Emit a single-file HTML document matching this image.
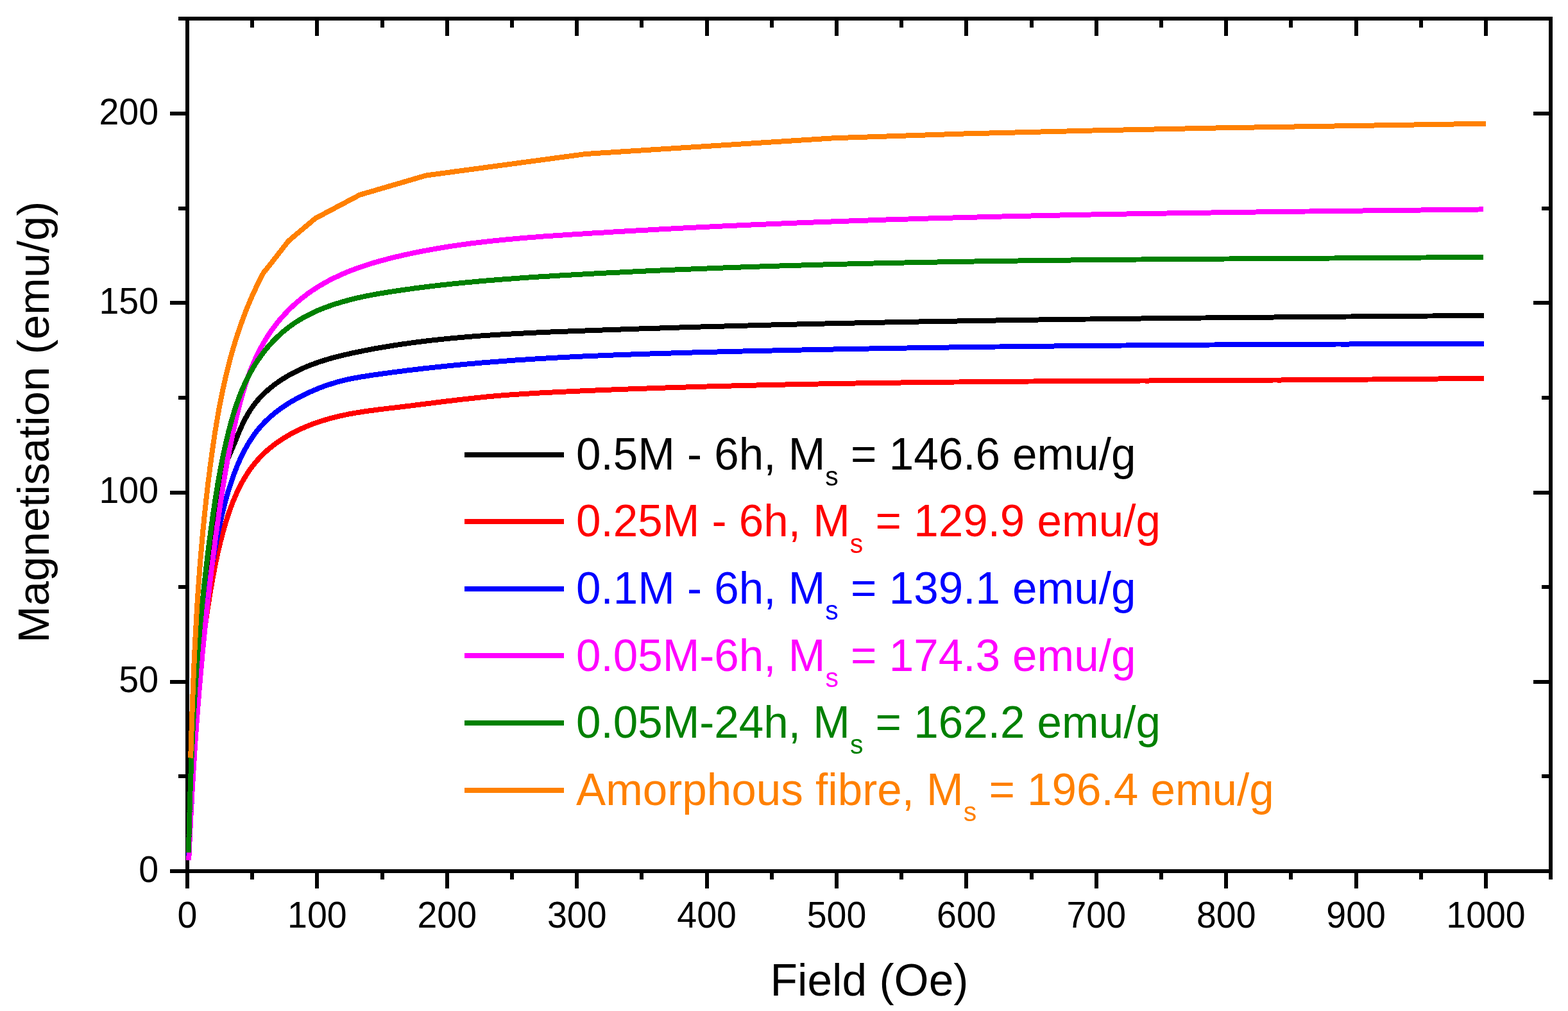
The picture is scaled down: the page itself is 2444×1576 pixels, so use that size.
<!DOCTYPE html>
<html><head><meta charset="utf-8"><title>Magnetisation vs Field</title>
<style>
html,body{margin:0;padding:0;background:#fff;}
body{width:2444px;height:1576px;overflow:hidden;}
svg{display:block;font-family:"Liberation Sans",Arial,sans-serif;}
</style></head><body>
<svg width="2444" height="1576" viewBox="0 0 2444 1576">
<rect width="2444" height="1576" fill="#fff"/>
<g fill="#000" shape-rendering="crispEdges">
<rect x="289" y="26" width="6" height="1335"/>
<rect x="2414" y="26" width="6" height="1335"/>
<rect x="289" y="26" width="2131" height="6"/>
<rect x="289" y="1355" width="2131" height="6"/>
<rect x="265" y="1355.00" width="24" height="6"/>
<rect x="2390" y="1355.00" width="24" height="6"/>
<rect x="278" y="1207.38" width="11" height="6"/>
<rect x="2403" y="1207.38" width="11" height="6"/>
<rect x="265" y="1059.75" width="24" height="6"/>
<rect x="2390" y="1059.75" width="24" height="6"/>
<rect x="278" y="912.12" width="11" height="6"/>
<rect x="2403" y="912.12" width="11" height="6"/>
<rect x="265" y="764.50" width="24" height="6"/>
<rect x="2390" y="764.50" width="24" height="6"/>
<rect x="278" y="616.88" width="11" height="6"/>
<rect x="2403" y="616.88" width="11" height="6"/>
<rect x="265" y="469.25" width="24" height="6"/>
<rect x="2390" y="469.25" width="24" height="6"/>
<rect x="278" y="321.62" width="11" height="6"/>
<rect x="2403" y="321.62" width="11" height="6"/>
<rect x="265" y="174.00" width="24" height="6"/>
<rect x="2390" y="174.00" width="24" height="6"/>
<rect x="278" y="26.38" width="11" height="6"/>
<rect x="2403" y="26.38" width="11" height="6"/>
<rect x="289.00" y="1361" width="6" height="24"/>
<rect x="289.00" y="32" width="6" height="24"/>
<rect x="390.20" y="1361" width="6" height="10"/>
<rect x="390.20" y="32" width="6" height="11"/>
<rect x="491.40" y="1361" width="6" height="24"/>
<rect x="491.40" y="32" width="6" height="24"/>
<rect x="592.60" y="1361" width="6" height="10"/>
<rect x="592.60" y="32" width="6" height="11"/>
<rect x="693.80" y="1361" width="6" height="24"/>
<rect x="693.80" y="32" width="6" height="24"/>
<rect x="795.00" y="1361" width="6" height="10"/>
<rect x="795.00" y="32" width="6" height="11"/>
<rect x="896.20" y="1361" width="6" height="24"/>
<rect x="896.20" y="32" width="6" height="24"/>
<rect x="997.40" y="1361" width="6" height="10"/>
<rect x="997.40" y="32" width="6" height="11"/>
<rect x="1098.60" y="1361" width="6" height="24"/>
<rect x="1098.60" y="32" width="6" height="24"/>
<rect x="1199.80" y="1361" width="6" height="10"/>
<rect x="1199.80" y="32" width="6" height="11"/>
<rect x="1301.00" y="1361" width="6" height="24"/>
<rect x="1301.00" y="32" width="6" height="24"/>
<rect x="1402.20" y="1361" width="6" height="10"/>
<rect x="1402.20" y="32" width="6" height="11"/>
<rect x="1503.40" y="1361" width="6" height="24"/>
<rect x="1503.40" y="32" width="6" height="24"/>
<rect x="1604.60" y="1361" width="6" height="10"/>
<rect x="1604.60" y="32" width="6" height="11"/>
<rect x="1705.80" y="1361" width="6" height="24"/>
<rect x="1705.80" y="32" width="6" height="24"/>
<rect x="1807.00" y="1361" width="6" height="10"/>
<rect x="1807.00" y="32" width="6" height="11"/>
<rect x="1908.20" y="1361" width="6" height="24"/>
<rect x="1908.20" y="32" width="6" height="24"/>
<rect x="2009.40" y="1361" width="6" height="10"/>
<rect x="2009.40" y="32" width="6" height="11"/>
<rect x="2110.60" y="1361" width="6" height="24"/>
<rect x="2110.60" y="32" width="6" height="24"/>
<rect x="2211.80" y="1361" width="6" height="10"/>
<rect x="2211.80" y="32" width="6" height="11"/>
<rect x="2313.00" y="1361" width="6" height="24"/>
<rect x="2313.00" y="32" width="6" height="24"/>
<rect x="2414.20" y="1361" width="6" height="10"/>
<rect x="2414.20" y="32" width="6" height="11"/>
</g>
<g fill="none" stroke-width="8" stroke-linejoin="round" stroke-linecap="butt" shape-rendering="crispEdges">
<path d="M294.2,1336.0 L294.1,1333.3 L294.2,1330.6 L294.3,1329.3 L294.3,1328.0 L294.5,1325.3 L294.6,1322.7 L294.6,1322.6 L294.8,1320.0 L294.9,1317.3 L295.0,1316.0 L295.0,1314.7 L295.2,1312.0 L295.3,1309.3 L295.3,1309.3 L295.4,1306.7 L295.6,1304.0 L295.6,1302.7 L295.7,1301.3 L295.8,1298.7 L296.0,1296.0 L296.0,1296.0 L296.1,1293.3 L296.2,1290.7 L296.3,1289.4 L296.3,1288.0 L296.5,1285.3 L296.6,1282.7 L296.6,1282.7 L296.7,1280.0 L296.9,1277.3 L296.9,1276.0 L297.0,1274.6 L297.1,1272.0 L297.2,1269.4 L297.2,1269.3 L297.4,1266.6 L297.5,1264.0 L297.6,1262.7 L297.6,1261.3 L297.8,1258.6 L297.9,1256.0 L297.9,1256.0 L298.0,1253.3 L298.1,1250.6 L298.2,1249.4 L298.3,1248.0 L298.4,1245.3 L298.5,1242.7 L298.5,1242.6 L298.6,1240.0 L298.8,1237.3 L298.8,1236.0 L298.9,1234.6 L299.0,1232.0 L299.1,1229.4 L299.1,1229.3 L299.3,1226.6 L299.4,1224.0 L299.4,1222.7 L299.5,1221.3 L299.6,1218.6 L299.8,1216.0 L299.8,1215.9 L299.9,1213.3 L300.0,1210.6 L300.1,1209.4 L300.1,1207.9 L300.3,1205.3 L300.4,1202.7 L300.4,1202.6 L300.5,1199.9 L300.7,1197.3 L300.7,1196.0 L300.8,1194.6 L300.9,1191.9 L301.0,1189.4 L301.0,1189.3 L301.2,1186.6 L301.3,1183.9 L301.4,1182.7 L301.4,1181.3 L301.6,1178.6 L301.7,1176.0 L301.7,1175.9 L301.8,1173.2 L302.0,1170.6 L302.0,1169.4 L302.1,1167.9 L302.2,1165.2 L302.4,1162.7 L302.4,1162.6 L302.5,1159.9 L302.6,1157.2 L302.7,1156.0 L302.8,1154.6 L302.9,1151.9 L303.0,1149.4 L303.0,1149.2 L303.2,1146.6 L303.3,1143.9 L303.4,1142.7 L303.5,1141.2 L303.6,1138.6 L303.7,1136.1 L303.8,1135.9 L303.9,1133.2 L304.0,1130.5 L304.1,1129.4 L304.2,1127.9 L304.3,1125.2 L304.5,1122.7 L304.5,1122.5 L304.6,1119.9 L304.8,1117.2 L304.8,1116.1 L304.9,1114.5 L305.1,1111.9 L305.2,1109.4 L305.2,1109.2 L305.4,1106.5 L305.5,1103.9 L305.6,1102.7 L305.7,1101.2 L305.9,1098.5 L306.0,1096.1 L306.0,1095.9 L306.2,1093.2 L306.3,1090.5 L306.4,1089.4 L306.5,1087.9 L306.7,1085.2 L306.8,1082.7 L306.8,1082.5 L307.0,1079.9 L307.2,1077.2 L307.2,1076.1 L307.3,1074.5 L307.5,1071.9 L307.7,1069.4 L307.7,1069.2 L307.9,1066.5 L308.0,1063.9 L308.1,1062.8 L308.2,1061.2 L308.4,1058.5 L308.6,1056.1 L308.6,1055.9 L308.8,1053.2 L309.0,1050.6 L309.0,1049.5 L309.1,1047.9 L309.3,1045.2 L309.5,1042.8 L309.5,1042.6 L309.7,1039.9 L309.9,1037.2 L310.0,1036.2 L310.1,1034.6 L310.3,1031.9 L310.5,1029.5 L310.5,1029.2 L310.7,1026.6 L310.9,1023.9 L311.0,1022.8 L311.1,1021.3 L311.3,1018.6 L311.5,1016.2 L311.5,1015.9 L311.7,1013.3 L312.0,1010.6 L312.0,1009.5 L312.2,1007.9 L312.4,1005.3 L312.6,1002.9 L312.6,1002.6 L312.8,1000.0 L313.1,997.3 L313.1,996.3 L313.3,994.6 L313.5,992.0 L313.7,989.6 L313.7,989.3 L314.0,986.7 L314.2,984.0 L314.3,983.0 L314.5,981.3 L314.7,978.7 L314.9,976.3 L314.9,976.0 L315.2,973.4 L315.4,970.7 L315.5,969.7 L315.7,968.1 L315.9,965.4 L316.2,963.0 L316.2,962.7 L316.5,960.1 L316.7,957.4 L316.8,956.4 L317.0,954.8 L317.2,952.1 L317.5,949.8 L317.5,949.5 L317.8,946.8 L318.1,944.1 L318.2,943.1 L318.3,941.5 L318.6,938.8 L318.9,936.5 L318.9,936.2 L319.2,933.5 L319.5,930.9 L319.6,929.9 L319.8,928.2 L320.0,925.6 L320.3,923.3 L320.3,922.9 L320.6,920.3 L320.9,917.6 L321.1,916.6 L321.3,914.9 L321.6,912.3 L321.8,910.0 L321.9,909.6 L322.2,907.0 L322.5,904.3 L322.6,903.4 L322.8,901.7 L323.1,899.0 L323.4,896.8 L323.5,896.4 L323.8,893.7 L324.1,891.1 L324.3,890.1 L324.5,888.4 L324.8,885.8 L325.1,883.5 L325.2,883.1 L325.5,880.5 L325.8,877.9 L326.0,876.9 L326.2,875.2 L326.5,872.6 L326.8,870.3 L326.9,869.9 L327.2,867.3 L327.6,864.6 L327.7,863.7 L328.0,862.0 L328.3,859.3 L328.6,857.1 L328.7,856.7 L329.1,854.0 L329.4,851.4 L329.5,850.5 L329.8,848.7 L330.2,846.1 L330.5,843.9 L330.5,843.4 L330.9,840.8 L331.3,838.1 L331.4,837.2 L331.6,835.5 L332.0,832.9 L332.3,830.6 L332.4,830.2 L332.8,827.6 L333.2,824.9 L333.3,824.0 L333.5,822.3 L333.9,819.6 L334.2,817.4 L334.3,817.0 L334.7,814.3 L335.0,811.7 L335.2,810.8 L335.4,809.0 L335.8,806.4 L336.1,804.2 L336.2,803.7 L336.6,801.1 L337.0,798.4 L337.1,797.6 L337.3,795.8 L337.7,793.1 L338.0,791.0 L338.1,790.5 L338.5,787.8 L338.8,785.2 L339.0,784.3 L339.2,782.5 L339.6,779.9 L339.9,777.7 L340.0,777.2 L340.4,774.6 L340.8,772.0 L340.9,771.1 L341.1,769.3 L341.6,766.7 L341.9,764.5 L342.0,764.0 L342.4,761.4 L342.9,758.8 L343.0,757.9 L343.3,756.1 L343.8,753.5 L344.2,751.4 L344.3,750.9 L344.9,748.3 L345.4,745.7 L345.6,744.9 L346.0,743.1 L346.6,740.5 L347.2,738.5 L347.3,738.0 L348.0,735.4 L348.7,732.9 L349.0,732.1 L349.5,730.4 L350.3,727.8 L351.0,725.8 L351.2,725.3 L352.1,722.8 L353.1,720.4 L353.4,719.6 L354.0,717.9 L355.1,715.4 L355.9,713.4 L356.1,712.9 L357.1,710.5 L358.2,708.0 L358.5,707.3 L359.2,705.6 L360.3,703.1 L361.1,701.1 L361.3,700.7 L362.4,698.2 L363.4,695.7 L363.7,695.0 L364.4,693.2 L365.5,690.8 L366.3,688.8 L366.5,688.3 L367.5,685.8 L368.5,683.3 L368.8,682.6 L369.5,680.8 L370.6,678.4 L371.4,676.4 L371.6,675.9 L372.6,673.4 L373.7,671.0 L374.0,670.3 L374.8,668.5 L375.8,666.1 L376.7,664.2 L376.9,663.7 L378.1,661.3 L379.2,658.9 L379.6,658.2 L380.4,656.5 L381.6,654.1 L382.5,652.3 L382.8,651.8 L384.1,649.5 L385.4,647.2 L385.7,646.5 L386.7,644.9 L388.0,642.6 L389.1,640.9 L389.4,640.4 L390.9,638.2 L392.3,636.0 L392.7,635.4 L393.8,633.8 L395.4,631.7 L396.6,630.1 L397.0,629.6 L398.6,627.5 L400.3,625.5 L400.8,624.9 L402.0,623.5 L403.8,621.5 L405.1,620.0 L405.6,619.6 L407.4,617.6 L409.3,615.7 L409.8,615.2 L411.2,613.9 L413.1,612.0 L414.6,610.6 L415.1,610.2 L417.1,608.4 L419.1,606.7 L419.6,606.2 L421.1,605.0 L423.2,603.3 L424.8,602.0 L425.3,601.6 L427.5,600.0 L429.6,598.4 L430.2,597.9 L431.8,596.8 L434.0,595.2 L435.7,594.1 L436.3,593.7 L438.5,592.2 L440.8,590.7 L441.4,590.4 L443.1,589.3 L445.4,587.9 L447.2,586.8 L447.7,586.5 L450.1,585.1 L452.4,583.8 L453.0,583.5 L454.8,582.5 L457.2,581.3 L459.0,580.3 L465.0,577.3 L471.1,574.5 L477.3,571.8 L483.5,569.3 L489.7,567.0 L496.0,564.8 L502.3,562.7 L508.7,560.7 L515.0,558.8 L521.5,557.0 L527.9,555.4 L534.4,553.8 L540.9,552.3 L547.4,550.8 L553.9,549.4 L560.4,548.1 L566.9,546.7 L573.5,545.5 L580.0,544.2 L586.5,543.0 L593.1,541.9 L599.7,540.8 L606.2,539.7 L612.8,538.6 L619.4,537.6 L625.9,536.6 L632.5,535.7 L639.1,534.8 L645.7,533.9 L652.3,533.0 L658.9,532.2 L665.5,531.4 L672.1,530.6 L678.8,529.9 L685.4,529.2 L692.0,528.5 L698.6,527.8 L705.3,527.2 L711.9,526.6 L718.5,526.0 L725.2,525.4 L731.8,524.9 L738.5,524.3 L745.1,523.8 L751.8,523.3 L758.4,522.9 L765.1,522.4 L771.8,522.0 L778.4,521.6 L785.1,521.2 L791.8,520.8 L798.4,520.4 L805.1,520.0 L811.8,519.7 L818.5,519.4 L825.1,519.0 L831.8,518.7 L838.5,518.4 L845.2,518.1 L851.9,517.8 L858.5,517.5 L865.2,517.3 L871.9,517.0 L878.6,516.7 L885.3,516.5 L891.9,516.2 L898.6,516.0 L905.3,515.7 L912.0,515.5 L918.7,515.2 L925.4,515.0 L932.0,514.8 L938.7,514.5 L945.4,514.3 L952.1,514.0 L958.8,513.8 L965.4,513.6 L972.1,513.3 L978.8,513.1 L985.5,512.9 L992.1,512.7 L998.8,512.4 L1005.5,512.2 L1012.2,512.0 L1018.9,511.8 L1025.5,511.6 L1032.2,511.4 L1038.9,511.1 L1045.6,510.9 L1052.2,510.7 L1058.9,510.5 L1065.6,510.3 L1072.3,510.1 L1078.9,509.9 L1085.6,509.7 L1092.3,509.5 L1099.0,509.3 L1105.6,509.1 L1112.3,508.9 L1119.0,508.7 L1125.7,508.6 L1132.3,508.4 L1139.0,508.2 L1145.7,508.0 L1152.4,507.8 L1159.0,507.6 L1165.7,507.5 L1172.4,507.3 L1179.0,507.1 L1185.7,506.9 L1192.4,506.8 L1199.1,506.6 L1205.7,506.4 L1212.4,506.3 L1219.1,506.1 L1225.8,505.9 L1232.4,505.8 L1239.1,505.6 L1245.8,505.4 L1252.4,505.3 L1259.1,505.1 L1265.8,505.0 L1272.4,504.8 L1279.1,504.7 L1285.8,504.5 L1292.5,504.4 L1299.1,504.2 L1305.8,504.1 L1312.5,503.9 L1319.1,503.8 L1325.8,503.6 L1332.5,503.5 L1339.1,503.3 L1345.8,503.2 L1352.5,503.1 L1359.1,502.9 L1365.8,502.8 L1372.5,502.7 L1379.1,502.5 L1385.8,502.4 L1392.5,502.3 L1399.2,502.1 L1405.8,502.0 L1412.5,501.9 L1419.2,501.8 L1425.8,501.6 L1432.5,501.5 L1439.2,501.4 L1445.8,501.3 L1452.5,501.1 L1459.2,501.0 L1465.8,500.9 L1472.5,500.8 L1479.2,500.7 L1485.8,500.6 L1492.5,500.5 L1499.2,500.3 L1505.8,500.2 L1512.5,500.1 L1519.2,500.0 L1525.8,499.9 L1532.5,499.8 L1539.2,499.7 L1545.8,499.6 L1552.5,499.5 L1559.2,499.4 L1565.8,499.3 L1572.5,499.2 L1579.2,499.1 L1585.8,499.0 L1592.5,498.9 L1599.2,498.8 L1605.8,498.7 L1612.5,498.6 L1619.2,498.5 L1625.8,498.4 L1632.5,498.3 L1639.2,498.2 L1645.8,498.1 L1652.5,498.1 L1659.2,498.0 L1665.8,497.9 L1672.5,497.8 L1679.2,497.7 L1685.8,497.6 L1692.5,497.5 L1699.2,497.5 L1705.8,497.4 L1712.5,497.3 L1719.2,497.2 L1725.8,497.1 L1732.5,497.1 L1739.2,497.0 L1745.8,496.9 L1752.5,496.8 L1759.2,496.7 L1765.8,496.7 L1772.5,496.6 L1779.2,496.5 L1785.8,496.4 L1792.5,496.4 L1799.2,496.3 L1805.8,496.2 L1812.5,496.2 L1819.2,496.1 L1825.8,496.0 L1832.5,495.9 L1839.2,495.9 L1845.8,495.8 L1852.5,495.7 L1859.2,495.7 L1865.8,495.6 L1872.5,495.5 L1879.2,495.5 L1885.9,495.4 L1892.5,495.3 L1899.2,495.3 L1905.9,495.2 L1912.5,495.2 L1919.2,495.1 L1925.9,495.0 L1932.5,495.0 L1939.2,494.9 L1945.9,494.8 L1952.6,494.8 L1959.2,494.7 L1965.9,494.7 L1972.6,494.6 L1979.2,494.6 L1985.9,494.5 L1992.6,494.4 L1999.2,494.4 L2005.9,494.3 L2012.6,494.3 L2019.3,494.2 L2025.9,494.1 L2032.6,494.1 L2039.3,494.0 L2046.0,494.0 L2052.6,493.9 L2059.3,493.9 L2066.0,493.8 L2072.6,493.8 L2079.3,493.7 L2086.0,493.6 L2092.7,493.6 L2099.3,493.5 L2106.0,493.5 L2112.7,493.4 L2119.4,493.4 L2126.0,493.3 L2132.7,493.3 L2139.4,493.2 L2146.1,493.2 L2152.7,493.1 L2159.4,493.1 L2166.1,493.0 L2172.8,493.0 L2179.4,492.9 L2186.1,492.8 L2192.8,492.8 L2199.5,492.7 L2206.2,492.7 L2212.8,492.6 L2219.5,492.6 L2226.2,492.5 L2232.9,492.5 L2239.6,492.4 L2246.2,492.4 L2252.9,492.3 L2259.6,492.3 L2266.3,492.2 L2273.0,492.2 L2279.6,492.1 L2286.3,492.1 L2293.0,492.0 L2299.7,491.9 L2306.4,491.9 L2313.0,491.8" stroke="#000000" />
<path d="M294.2,1337.0 L294.3,1334.4 L294.4,1331.9 L294.4,1330.6 L294.5,1329.3 L294.6,1326.7 L294.7,1324.1 L294.7,1324.1 L294.8,1321.6 L295.0,1319.0 L295.0,1317.7 L295.1,1316.4 L295.2,1313.8 L295.3,1311.3 L295.3,1311.2 L295.4,1308.7 L295.5,1306.1 L295.6,1304.8 L295.7,1303.5 L295.8,1300.9 L295.9,1298.4 L295.9,1298.4 L296.0,1295.8 L296.1,1293.2 L296.2,1292.0 L296.2,1290.6 L296.3,1288.0 L296.5,1285.5 L296.5,1285.5 L296.6,1282.9 L296.7,1280.3 L296.8,1279.1 L296.8,1277.7 L296.9,1275.2 L297.0,1272.6 L297.0,1272.6 L297.2,1270.0 L297.3,1267.4 L297.3,1266.2 L297.4,1264.8 L297.5,1262.3 L297.6,1259.8 L297.6,1259.7 L297.7,1257.1 L297.9,1254.5 L297.9,1253.3 L298.0,1252.0 L298.1,1249.4 L298.2,1246.9 L298.2,1246.8 L298.3,1244.2 L298.5,1241.6 L298.5,1240.4 L298.6,1239.1 L298.7,1236.5 L298.8,1234.0 L298.8,1233.9 L299.0,1231.3 L299.1,1228.8 L299.1,1227.6 L299.2,1226.2 L299.3,1223.6 L299.5,1221.1 L299.5,1221.0 L299.6,1218.4 L299.7,1215.9 L299.8,1214.7 L299.9,1213.3 L300.0,1210.7 L300.1,1208.2 L300.1,1208.1 L300.2,1205.6 L300.4,1203.0 L300.4,1201.8 L300.5,1200.4 L300.7,1197.8 L300.8,1195.4 L300.8,1195.2 L300.9,1192.7 L301.1,1190.1 L301.1,1188.9 L301.2,1187.5 L301.3,1184.9 L301.5,1182.5 L301.5,1182.4 L301.6,1179.8 L301.8,1177.2 L301.8,1176.1 L301.9,1174.6 L302.1,1172.1 L302.2,1169.6 L302.2,1169.5 L302.4,1166.9 L302.5,1164.3 L302.6,1163.2 L302.7,1161.7 L302.8,1159.2 L303.0,1156.7 L303.0,1156.6 L303.2,1154.0 L303.3,1151.4 L303.4,1150.3 L303.5,1148.9 L303.6,1146.3 L303.8,1143.9 L303.8,1143.7 L304.0,1141.2 L304.2,1138.6 L304.2,1137.5 L304.3,1136.0 L304.5,1133.4 L304.7,1131.0 L304.7,1130.9 L304.8,1128.3 L305.0,1125.7 L305.1,1124.6 L305.2,1123.1 L305.4,1120.6 L305.6,1118.2 L305.6,1118.0 L305.8,1115.4 L305.9,1112.8 L306.0,1111.7 L306.1,1110.3 L306.3,1107.7 L306.5,1105.3 L306.5,1105.1 L306.7,1102.6 L306.9,1100.0 L307.0,1098.9 L307.1,1097.4 L307.3,1094.9 L307.5,1092.5 L307.5,1092.3 L307.7,1089.7 L308.0,1087.1 L308.0,1086.1 L308.2,1084.6 L308.4,1082.0 L308.6,1079.6 L308.6,1079.4 L308.8,1076.9 L309.1,1074.3 L309.1,1073.2 L309.3,1071.7 L309.5,1069.2 L309.7,1066.8 L309.7,1066.6 L310.0,1064.0 L310.2,1061.5 L310.3,1060.4 L310.4,1058.9 L310.7,1056.3 L310.9,1054.0 L310.9,1053.8 L311.2,1051.2 L311.4,1048.6 L311.5,1047.6 L311.7,1046.1 L311.9,1043.5 L312.2,1041.2 L312.2,1040.9 L312.5,1038.4 L312.7,1035.8 L312.8,1034.8 L313.0,1033.3 L313.3,1030.7 L313.5,1028.4 L313.5,1028.1 L313.8,1025.6 L314.1,1023.0 L314.2,1022.0 L314.4,1020.4 L314.7,1017.9 L314.9,1015.6 L315.0,1015.3 L315.2,1012.8 L315.5,1010.2 L315.7,1009.2 L315.8,1007.6 L316.1,1005.1 L316.4,1002.8 L316.4,1002.5 L316.8,1000.0 L317.1,997.4 L317.2,996.4 L317.4,994.9 L317.7,992.3 L318.0,990.0 L318.0,989.7 L318.4,987.2 L318.7,984.6 L318.8,983.6 L319.0,982.1 L319.4,979.5 L319.7,977.3 L319.7,977.0 L320.0,974.4 L320.4,971.9 L320.5,970.9 L320.7,969.3 L321.1,966.8 L321.4,964.5 L321.5,964.2 L321.8,961.7 L322.2,959.1 L322.3,958.1 L322.6,956.5 L322.9,954.0 L323.3,951.8 L323.3,951.5 L323.7,948.9 L324.1,946.4 L324.2,945.4 L324.5,943.8 L324.9,941.3 L325.2,939.0 L325.3,938.7 L325.7,936.2 L326.1,933.6 L326.2,932.7 L326.5,931.1 L326.9,928.5 L327.3,926.3 L327.3,926.0 L327.7,923.4 L328.2,920.9 L328.3,920.0 L328.6,918.4 L329.0,915.8 L329.4,913.6 L329.5,913.3 L329.9,910.7 L330.4,908.2 L330.5,907.3 L330.8,905.7 L331.3,903.1 L331.7,900.9 L331.8,900.6 L332.2,898.0 L332.7,895.5 L332.9,894.6 L333.2,893.0 L333.7,890.4 L334.1,888.3 L334.1,887.9 L334.6,885.4 L335.1,882.8 L335.3,881.9 L335.6,880.3 L336.2,877.8 L336.6,875.6 L336.7,875.2 L337.2,872.7 L337.7,870.2 L337.9,869.3 L338.3,867.6 L338.8,865.1 L339.3,863.0 L339.4,862.6 L339.9,860.1 L340.5,857.6 L340.7,856.7 L341.1,855.0 L341.7,852.5 L342.2,850.4 L342.3,850.0 L342.9,847.5 L343.5,845.0 L343.7,844.1 L344.1,842.5 L344.8,840.0 L345.3,837.9 L345.4,837.5 L346.1,835.0 L346.7,832.5 L347.0,831.6 L347.4,830.0 L348.1,827.5 L348.7,825.4 L348.8,825.0 L349.5,822.5 L350.2,820.0 L350.5,819.2 L351.0,817.5 L351.7,815.0 L352.4,813.0 L352.5,812.5 L353.3,810.1 L354.0,807.6 L354.3,806.8 L354.8,805.1 L355.7,802.7 L356.3,800.6 L356.5,800.2 L357.3,797.7 L358.2,795.3 L358.5,794.5 L359.1,792.9 L360.0,790.4 L360.7,788.4 L360.9,788.0 L361.8,785.6 L362.7,783.2 L363.0,782.4 L363.7,780.8 L364.7,778.4 L365.5,776.4 L365.7,776.0 L366.7,773.6 L367.7,771.3 L368.0,770.5 L368.8,768.9 L369.8,766.6 L370.7,764.7 L370.9,764.2 L372.1,761.9 L373.2,759.6 L373.6,758.9 L374.4,757.4 L375.6,755.1 L376.5,753.3 L376.8,752.8 L378.0,750.6 L379.2,748.4 L379.6,747.7 L380.5,746.2 L381.8,744.0 L382.9,742.2 L383.2,741.8 L384.5,739.7 L385.9,737.5 L386.3,736.9 L387.3,735.4 L388.8,733.3 L389.9,731.6 L390.2,731.2 L391.7,729.2 L393.2,727.1 L393.7,726.5 L394.8,725.1 L396.4,723.1 L397.6,721.6 L398.0,721.2 L399.6,719.2 L401.3,717.3 L401.8,716.7 L403.0,715.4 L404.7,713.5 L406.1,712.1 L406.5,711.7 L408.3,709.9 L410.1,708.1 L410.6,707.5 L411.9,706.3 L413.8,704.5 L415.3,703.2 L415.7,702.8 L417.6,701.1 L419.6,699.4 L420.2,699.0 L421.6,697.8 L423.6,696.2 L425.2,694.9 L425.6,694.6 L427.7,693.0 L429.7,691.5 L430.3,691.0 L431.8,690.0 L434.0,688.5 L435.6,687.3 L436.1,687.0 L438.3,685.6 L440.4,684.2 L441.1,683.8 L442.6,682.8 L444.9,681.4 L446.6,680.4 L447.1,680.1 L449.3,678.8 L451.6,677.5 L452.2,677.1 L453.9,676.2 L456.2,675.0 L457.9,674.1 L458.5,673.8 L460.8,672.6 L463.1,671.4 L463.7,671.1 L465.5,670.3 L467.8,669.2 L469.6,668.4 L470.2,668.1 L472.5,667.1 L474.9,666.0 L475.5,665.8 L477.3,665.0 L479.7,664.0 L481.5,663.3 L482.1,663.1 L484.5,662.1 L486.9,661.2 L487.5,661.0 L489.3,660.3 L491.7,659.5 L493.6,658.8 L494.2,658.6 L496.6,657.8 L499.1,657.0 L499.7,656.8 L501.5,656.2 L504.0,655.4 L505.9,654.8 L506.5,654.7 L508.9,653.9 L511.4,653.2 L512.0,653.0 L513.9,652.5 L516.4,651.8 L518.3,651.4 L524.5,649.8 L530.8,648.3 L537.1,646.9 L543.4,645.6 L549.8,644.4 L556.1,643.3 L562.5,642.3 L568.8,641.3 L575.2,640.4 L581.6,639.6 L587.9,638.7 L594.3,637.9 L600.7,637.2 L607.1,636.4 L613.5,635.7 L619.9,634.9 L626.2,634.2 L632.6,633.4 L639.0,632.6 L645.4,631.8 L651.8,631.0 L658.2,630.2 L664.6,629.4 L671.0,628.6 L677.4,627.8 L683.8,627.0 L690.2,626.2 L696.6,625.4 L703.0,624.7 L709.4,623.9 L715.8,623.1 L722.2,622.4 L728.6,621.7 L735.0,621.0 L741.4,620.3 L747.8,619.6 L754.2,619.0 L760.6,618.3 L767.1,617.7 L773.5,617.2 L779.9,616.6 L786.3,616.1 L792.8,615.6 L799.2,615.2 L805.6,614.7 L812.0,614.3 L818.5,613.8 L824.9,613.5 L831.3,613.1 L837.8,612.7 L844.2,612.3 L850.6,612.0 L857.1,611.7 L863.5,611.4 L869.9,611.0 L876.4,610.7 L882.8,610.5 L889.2,610.2 L895.7,609.9 L902.1,609.6 L908.6,609.3 L915.0,609.1 L921.4,608.8 L927.9,608.5 L934.3,608.3 L940.8,608.0 L947.2,607.8 L953.6,607.5 L960.1,607.3 L966.5,607.0 L973.0,606.8 L979.4,606.5 L985.8,606.3 L992.3,606.1 L998.7,605.8 L1005.1,605.6 L1011.6,605.4 L1018.0,605.2 L1024.5,604.9 L1030.9,604.7 L1037.3,604.5 L1043.8,604.3 L1050.2,604.1 L1056.7,603.9 L1063.1,603.7 L1069.5,603.5 L1076.0,603.3 L1082.4,603.1 L1088.9,602.9 L1095.3,602.7 L1101.7,602.5 L1108.2,602.4 L1114.6,602.2 L1121.1,602.0 L1127.5,601.8 L1134.0,601.7 L1140.4,601.5 L1146.8,601.3 L1153.3,601.2 L1159.7,601.0 L1166.2,600.8 L1172.6,600.7 L1179.0,600.5 L1185.5,600.4 L1191.9,600.2 L1198.4,600.1 L1204.8,599.9 L1211.2,599.8 L1217.7,599.7 L1224.1,599.5 L1230.6,599.4 L1237.0,599.3 L1243.5,599.1 L1249.9,599.0 L1256.3,598.9 L1262.8,598.7 L1269.2,598.6 L1275.7,598.5 L1282.1,598.4 L1288.5,598.3 L1295.0,598.2 L1301.4,598.0 L1307.9,597.9 L1314.3,597.8 L1320.8,597.7 L1327.2,597.6 L1333.6,597.5 L1340.1,597.4 L1346.5,597.3 L1353.0,597.2 L1359.4,597.1 L1365.9,597.0 L1372.3,596.9 L1378.7,596.8 L1385.2,596.7 L1391.6,596.7 L1398.1,596.6 L1404.5,596.5 L1410.9,596.4 L1417.4,596.3 L1423.8,596.2 L1430.3,596.2 L1436.7,596.1 L1443.2,596.0 L1449.6,595.9 L1456.0,595.9 L1462.5,595.8 L1468.9,595.7 L1475.4,595.7 L1481.8,595.6 L1488.3,595.5 L1494.7,595.5 L1501.2,595.4 L1507.6,595.3 L1514.0,595.3 L1520.5,595.2 L1526.9,595.2 L1533.4,595.1 L1539.8,595.0 L1546.3,595.0 L1552.7,594.9 L1559.1,594.9 L1565.6,594.8 L1572.0,594.8 L1578.5,594.7 L1584.9,594.7 L1591.4,594.6 L1597.8,594.6 L1604.2,594.5 L1610.7,594.5 L1617.1,594.4 L1623.6,594.4 L1630.0,594.4 L1636.5,594.3 L1642.9,594.3 L1649.3,594.2 L1655.8,594.2 L1662.2,594.2 L1668.7,594.1 L1675.1,594.1 L1681.6,594.0 L1688.0,594.0 L1694.5,594.0 L1700.9,593.9 L1707.3,593.9 L1713.8,593.9 L1720.2,593.8 L1726.7,593.8 L1733.1,593.8 L1739.6,593.7 L1746.0,593.7 L1752.4,593.7 L1758.9,593.6 L1765.3,593.6 L1771.8,593.6 L1778.2,593.5 L1784.7,593.5 L1791.1,593.5 L1797.6,593.4 L1804.0,593.4 L1810.4,593.4 L1816.9,593.3 L1823.3,593.3 L1829.8,593.3 L1836.2,593.3 L1842.7,593.2 L1849.1,593.2 L1855.5,593.2 L1862.0,593.1 L1868.4,593.1 L1874.9,593.1 L1881.3,593.0 L1887.8,593.0 L1894.2,593.0 L1900.7,593.0 L1907.1,592.9 L1913.5,592.9 L1920.0,592.9 L1926.4,592.8 L1932.9,592.8 L1939.3,592.8 L1945.8,592.7 L1952.2,592.7 L1958.6,592.7 L1965.1,592.6 L1971.5,592.6 L1978.0,592.6 L1984.4,592.5 L1990.9,592.5 L1997.3,592.5 L2003.7,592.4 L2010.2,592.4 L2016.6,592.4 L2023.1,592.3 L2029.5,592.3 L2036.0,592.2 L2042.4,592.2 L2048.9,592.2 L2055.3,592.1 L2061.7,592.1 L2068.2,592.0 L2074.6,592.0 L2081.1,591.9 L2087.5,591.9 L2094.0,591.8 L2100.4,591.8 L2106.8,591.7 L2113.3,591.7 L2119.7,591.7 L2126.2,591.6 L2132.6,591.5 L2139.1,591.5 L2145.5,591.4 L2151.9,591.4 L2158.4,591.3 L2164.8,591.3 L2171.3,591.2 L2177.7,591.2 L2184.2,591.1 L2190.6,591.0 L2197.0,591.0 L2203.5,590.9 L2209.9,590.8 L2216.4,590.8 L2222.8,590.7 L2229.2,590.6 L2235.7,590.6 L2242.1,590.5 L2248.6,590.4 L2255.0,590.3 L2261.5,590.3 L2267.9,590.2 L2274.3,590.1 L2280.8,590.0 L2287.2,589.9 L2293.7,589.9 L2300.1,589.8 L2306.6,589.7 L2313.0,589.7" stroke="#FF0000" />
<path d="M294.2,1337.0 L293.8,1334.3 L294.0,1331.7 L294.1,1330.4 L294.1,1329.1 L294.3,1326.4 L294.5,1323.8 L294.5,1323.8 L294.6,1321.2 L294.8,1318.6 L294.9,1317.3 L294.9,1316.0 L295.1,1313.4 L295.3,1310.8 L295.3,1310.7 L295.4,1308.1 L295.6,1305.5 L295.6,1304.2 L295.7,1302.9 L295.9,1300.3 L296.0,1297.7 L296.0,1297.7 L296.2,1295.0 L296.3,1292.4 L296.4,1291.2 L296.5,1289.8 L296.6,1287.2 L296.8,1284.6 L296.8,1284.6 L296.9,1281.9 L297.1,1279.3 L297.1,1278.1 L297.2,1276.7 L297.3,1274.1 L297.5,1271.5 L297.5,1271.5 L297.6,1268.8 L297.8,1266.2 L297.8,1265.0 L297.9,1263.6 L298.1,1261.0 L298.2,1258.4 L298.2,1258.3 L298.3,1255.7 L298.5,1253.1 L298.5,1251.9 L298.6,1250.5 L298.8,1247.9 L298.9,1245.3 L298.9,1245.2 L299.0,1242.6 L299.2,1240.0 L299.2,1238.8 L299.3,1237.4 L299.4,1234.7 L299.6,1232.2 L299.6,1232.1 L299.7,1229.5 L299.9,1226.9 L299.9,1225.6 L300.0,1224.2 L300.1,1221.6 L300.3,1219.1 L300.3,1219.0 L300.4,1216.4 L300.5,1213.7 L300.6,1212.5 L300.7,1211.1 L300.8,1208.5 L301.0,1206.0 L301.0,1205.9 L301.1,1203.2 L301.2,1200.6 L301.3,1199.4 L301.4,1198.0 L301.5,1195.3 L301.7,1192.8 L301.7,1192.7 L301.8,1190.1 L301.9,1187.5 L302.0,1186.3 L302.1,1184.8 L302.2,1182.2 L302.4,1179.7 L302.4,1179.6 L302.5,1177.0 L302.7,1174.3 L302.7,1173.2 L302.8,1171.7 L302.9,1169.1 L303.1,1166.6 L303.1,1166.5 L303.2,1163.8 L303.4,1161.2 L303.5,1160.0 L303.5,1158.6 L303.7,1155.9 L303.8,1153.5 L303.8,1153.3 L304.0,1150.7 L304.1,1148.1 L304.2,1146.9 L304.3,1145.4 L304.4,1142.8 L304.6,1140.4 L304.6,1140.2 L304.8,1137.6 L304.9,1134.9 L305.0,1133.8 L305.1,1132.3 L305.2,1129.7 L305.4,1127.2 L305.4,1127.1 L305.6,1124.4 L305.7,1121.8 L305.8,1120.7 L305.9,1119.2 L306.0,1116.5 L306.2,1114.1 L306.2,1113.9 L306.4,1111.3 L306.6,1108.7 L306.6,1107.5 L306.7,1106.0 L306.9,1103.4 L307.1,1101.0 L307.1,1100.8 L307.2,1098.2 L307.4,1095.5 L307.5,1094.4 L307.6,1092.9 L307.8,1090.3 L308.0,1087.9 L308.0,1087.7 L308.2,1085.0 L308.3,1082.4 L308.4,1081.3 L308.5,1079.8 L308.7,1077.2 L308.9,1074.8 L308.9,1074.6 L309.1,1071.9 L309.3,1069.3 L309.4,1068.2 L309.5,1066.7 L309.7,1064.1 L309.9,1061.7 L309.9,1061.4 L310.1,1058.8 L310.3,1056.2 L310.4,1055.1 L310.5,1053.6 L310.7,1050.9 L310.9,1048.6 L310.9,1048.3 L311.2,1045.7 L311.4,1043.1 L311.5,1042.0 L311.6,1040.5 L311.8,1037.8 L312.0,1035.5 L312.0,1035.2 L312.3,1032.6 L312.5,1030.0 L312.6,1028.9 L312.7,1027.4 L313.0,1024.8 L313.2,1022.4 L313.2,1022.1 L313.4,1019.5 L313.7,1016.9 L313.8,1015.9 L313.9,1014.3 L314.2,1011.7 L314.4,1009.3 L314.4,1009.0 L314.7,1006.4 L314.9,1003.8 L315.0,1002.8 L315.2,1001.2 L315.4,998.6 L315.7,996.3 L315.7,996.0 L316.0,993.4 L316.2,990.7 L316.3,989.7 L316.5,988.1 L316.8,985.5 L317.0,983.2 L317.1,982.9 L317.3,980.3 L317.6,977.7 L317.7,976.7 L317.9,975.1 L318.2,972.5 L318.5,970.2 L318.5,969.9 L318.8,967.2 L319.1,964.6 L319.2,963.6 L319.4,962.0 L319.7,959.4 L320.0,957.1 L320.0,956.8 L320.3,954.2 L320.7,951.6 L320.8,950.6 L321.0,949.0 L321.3,946.4 L321.6,944.1 L321.6,943.8 L322.0,941.2 L322.3,938.6 L322.4,937.6 L322.6,936.0 L323.0,933.4 L323.3,931.1 L323.3,930.8 L323.7,928.2 L324.0,925.6 L324.2,924.6 L324.4,923.0 L324.7,920.4 L325.1,918.1 L325.1,917.8 L325.5,915.2 L325.8,912.6 L326.0,911.6 L326.2,910.0 L326.6,907.4 L326.9,905.1 L327.0,904.8 L327.4,902.2 L327.8,899.6 L327.9,898.6 L328.2,897.0 L328.6,894.4 L328.9,892.2 L329.0,891.8 L329.4,889.2 L329.8,886.6 L330.0,885.7 L330.2,884.0 L330.6,881.4 L331.0,879.2 L331.1,878.8 L331.5,876.2 L331.9,873.7 L332.1,872.7 L332.4,871.1 L332.8,868.5 L333.2,866.3 L333.3,865.9 L333.7,863.3 L334.2,860.7 L334.3,859.8 L334.7,858.1 L335.1,855.6 L335.5,853.4 L335.6,853.0 L336.1,850.4 L336.6,847.8 L336.7,846.9 L337.0,845.2 L337.5,842.6 L338.0,840.5 L338.0,840.1 L338.5,837.5 L339.0,834.9 L339.2,834.0 L339.6,832.3 L340.1,829.8 L340.5,827.6 L340.6,827.2 L341.1,824.6 L341.7,822.0 L341.9,821.2 L342.2,819.5 L342.8,816.9 L343.2,814.8 L343.3,814.3 L343.9,811.8 L344.5,809.2 L344.7,808.4 L345.1,806.6 L345.7,804.1 L346.2,802.0 L346.3,801.5 L346.9,799.0 L347.5,796.4 L347.7,795.6 L348.1,793.9 L348.8,791.3 L349.3,789.2 L349.4,788.8 L350.1,786.2 L350.8,783.7 L351.0,782.9 L351.4,781.1 L352.1,778.6 L352.7,776.5 L352.9,776.1 L353.6,773.5 L354.3,771.0 L354.5,770.2 L355.0,768.5 L355.8,765.9 L356.4,763.9 L356.6,763.4 L357.4,760.9 L358.1,758.4 L358.4,757.6 L359.0,755.9 L359.8,753.3 L360.5,751.3 L360.6,750.8 L361.5,748.3 L362.3,745.8 L362.6,745.1 L363.2,743.3 L364.1,740.8 L364.8,738.8 L365.0,738.4 L365.9,735.9 L366.9,733.4 L367.2,732.7 L367.9,730.9 L368.8,728.5 L369.6,726.5 L369.8,726.0 L370.9,723.6 L371.9,721.2 L372.2,720.4 L373.0,718.8 L374.0,716.4 L374.9,714.4 L375.1,714.0 L376.3,711.6 L377.4,709.2 L377.7,708.5 L378.6,706.9 L379.8,704.5 L380.7,702.7 L381.0,702.2 L382.2,699.9 L383.5,697.6 L383.8,696.9 L384.8,695.3 L386.1,693.1 L387.1,691.3 L387.4,690.8 L388.8,688.6 L390.2,686.4 L390.6,685.8 L391.6,684.2 L393.0,682.1 L394.2,680.4 L394.5,679.9 L396.0,677.8 L397.5,675.7 L398.0,675.1 L399.1,673.6 L400.7,671.6 L401.9,670.0 L402.3,669.6 L403.9,667.6 L405.6,665.6 L406.1,665.0 L407.3,663.6 L409.1,661.7 L410.4,660.3 L410.8,659.8 L412.6,658.0 L414.5,656.1 L415.0,655.6 L416.4,654.3 L418.3,652.5 L419.7,651.2 L420.2,650.8 L422.1,649.0 L424.1,647.3 L424.7,646.9 L426.1,645.7 L428.1,644.0 L429.7,642.7 L430.2,642.4 L432.3,640.8 L434.4,639.2 L434.9,638.8 L436.5,637.6 L438.6,636.1 L440.3,634.9 L440.8,634.6 L443.0,633.1 L445.2,631.6 L445.8,631.2 L447.4,630.2 L449.7,628.8 L451.4,627.7 L451.9,627.4 L454.2,626.0 L456.5,624.7 L457.1,624.3 L458.8,623.4 L461.1,622.1 L462.9,621.1 L463.4,620.8 L465.8,619.5 L468.1,618.3 L468.7,618.0 L470.5,617.1 L472.9,615.9 L474.7,615.0 L475.3,614.7 L477.6,613.6 L480.0,612.4 L480.7,612.2 L482.5,611.3 L484.9,610.3 L486.7,609.5 L492.8,606.9 L498.9,604.4 L505.0,602.1 L511.2,600.0 L517.5,598.0 L523.8,596.1 L530.1,594.3 L536.4,592.8 L542.8,591.3 L549.2,590.0 L555.6,588.8 L562.1,587.6 L568.6,586.6 L575.1,585.6 L581.5,584.6 L588.0,583.7 L594.5,582.8 L601.0,581.9 L607.5,581.0 L614.0,580.1 L620.5,579.3 L627.0,578.5 L633.5,577.6 L640.1,576.8 L646.6,576.1 L653.1,575.3 L659.6,574.5 L666.1,573.8 L672.6,573.1 L679.2,572.4 L685.7,571.7 L692.2,571.0 L698.7,570.3 L705.2,569.7 L711.8,569.1 L718.3,568.4 L724.8,567.8 L731.4,567.2 L737.9,566.7 L744.4,566.1 L751.0,565.5 L757.5,565.0 L764.0,564.5 L770.6,564.0 L777.1,563.5 L783.7,563.0 L790.2,562.5 L796.8,562.0 L803.3,561.5 L809.9,561.1 L816.4,560.7 L823.0,560.2 L829.5,559.8 L836.1,559.4 L842.6,559.0 L849.2,558.6 L855.7,558.2 L862.3,557.9 L868.8,557.5 L875.4,557.2 L881.9,556.8 L888.5,556.5 L895.1,556.2 L901.6,555.8 L908.2,555.5 L914.7,555.2 L921.3,554.9 L927.9,554.7 L934.4,554.4 L941.0,554.1 L947.6,553.8 L954.1,553.6 L960.7,553.3 L967.3,553.1 L973.8,552.8 L980.4,552.6 L987.0,552.4 L993.5,552.1 L1000.1,551.9 L1006.7,551.7 L1013.2,551.5 L1019.8,551.3 L1026.4,551.1 L1032.9,550.9 L1039.5,550.7 L1046.1,550.5 L1052.6,550.3 L1059.2,550.1 L1065.8,549.9 L1072.3,549.7 L1078.9,549.5 L1085.5,549.4 L1092.1,549.2 L1098.6,549.0 L1105.2,548.9 L1111.8,548.7 L1118.3,548.5 L1124.9,548.4 L1131.5,548.2 L1138.0,548.0 L1144.6,547.9 L1151.2,547.7 L1157.7,547.5 L1164.3,547.4 L1170.9,547.2 L1177.4,547.1 L1184.0,546.9 L1190.6,546.8 L1197.1,546.6 L1203.7,546.5 L1210.3,546.3 L1216.8,546.2 L1223.4,546.0 L1230.0,545.9 L1236.5,545.8 L1243.1,545.6 L1249.7,545.5 L1256.2,545.3 L1262.8,545.2 L1269.3,545.1 L1275.9,544.9 L1282.5,544.8 L1289.0,544.7 L1295.6,544.6 L1302.2,544.4 L1308.7,544.3 L1315.3,544.2 L1321.9,544.1 L1328.4,543.9 L1335.0,543.8 L1341.6,543.7 L1348.1,543.6 L1354.7,543.5 L1361.2,543.4 L1367.8,543.2 L1374.4,543.1 L1380.9,543.0 L1387.5,542.9 L1394.1,542.8 L1400.6,542.7 L1407.2,542.6 L1413.8,542.5 L1420.3,542.4 L1426.9,542.3 L1433.4,542.2 L1440.0,542.1 L1446.6,542.0 L1453.1,541.9 L1459.7,541.8 L1466.3,541.7 L1472.8,541.6 L1479.4,541.5 L1485.9,541.4 L1492.5,541.3 L1499.1,541.2 L1505.6,541.1 L1512.2,541.0 L1518.8,541.0 L1525.3,540.9 L1531.9,540.8 L1538.4,540.7 L1545.0,540.6 L1551.6,540.5 L1558.1,540.5 L1564.7,540.4 L1571.2,540.3 L1577.8,540.2 L1584.4,540.1 L1590.9,540.1 L1597.5,540.0 L1604.1,539.9 L1610.6,539.8 L1617.2,539.8 L1623.7,539.7 L1630.3,539.6 L1636.9,539.6 L1643.4,539.5 L1650.0,539.4 L1656.5,539.4 L1663.1,539.3 L1669.7,539.2 L1676.2,539.2 L1682.8,539.1 L1689.4,539.0 L1695.9,539.0 L1702.5,538.9 L1709.0,538.9 L1715.6,538.8 L1722.2,538.7 L1728.7,538.7 L1735.3,538.6 L1741.8,538.6 L1748.4,538.5 L1755.0,538.5 L1761.5,538.4 L1768.1,538.4 L1774.7,538.3 L1781.2,538.3 L1787.8,538.2 L1794.3,538.2 L1800.9,538.1 L1807.5,538.1 L1814.0,538.0 L1820.6,538.0 L1827.2,537.9 L1833.7,537.9 L1840.3,537.8 L1846.8,537.8 L1853.4,537.7 L1860.0,537.7 L1866.5,537.7 L1873.1,537.6 L1879.7,537.6 L1886.2,537.5 L1892.8,537.5 L1899.3,537.4 L1905.9,537.4 L1912.5,537.4 L1919.0,537.3 L1925.6,537.3 L1932.2,537.3 L1938.7,537.2 L1945.3,537.2 L1951.8,537.1 L1958.4,537.1 L1965.0,537.1 L1971.5,537.0 L1978.1,537.0 L1984.7,537.0 L1991.2,536.9 L1997.8,536.9 L2004.4,536.9 L2010.9,536.9 L2017.5,536.8 L2024.0,536.8 L2030.6,536.8 L2037.2,536.7 L2043.7,536.7 L2050.3,536.7 L2056.9,536.6 L2063.4,536.6 L2070.0,536.6 L2076.6,536.6 L2083.1,536.5 L2089.7,536.5 L2096.3,536.5 L2102.8,536.5 L2109.4,536.4 L2116.0,536.4 L2122.5,536.4 L2129.1,536.3 L2135.7,536.3 L2142.2,536.3 L2148.8,536.3 L2155.4,536.3 L2161.9,536.2 L2168.5,536.2 L2175.1,536.2 L2181.6,536.2 L2188.2,536.1 L2194.8,536.1 L2201.3,536.1 L2207.9,536.1 L2214.5,536.0 L2221.0,536.0 L2227.6,536.0 L2234.2,536.0 L2240.7,536.0 L2247.3,535.9 L2253.9,535.9 L2260.5,535.9 L2267.0,535.9 L2273.6,535.8 L2280.2,535.8 L2286.7,535.8 L2293.3,535.8 L2299.9,535.8 L2306.4,535.7 L2313.0,535.7" stroke="#0000FF" />
<path d="M294.3,1341.2 L294.3,1338.4 L294.4,1335.6 L294.5,1334.2 L294.6,1332.9 L294.7,1330.1 L294.8,1327.3 L294.8,1327.3 L294.9,1324.5 L295.1,1321.8 L295.1,1320.4 L295.2,1319.0 L295.3,1316.2 L295.4,1313.4 L295.4,1313.4 L295.6,1310.6 L295.7,1307.9 L295.8,1306.5 L295.8,1305.1 L296.0,1302.3 L296.1,1299.6 L296.1,1299.5 L296.2,1296.8 L296.4,1294.0 L296.4,1292.6 L296.5,1291.2 L296.6,1288.4 L296.8,1285.7 L296.8,1285.7 L296.9,1282.9 L297.1,1280.1 L297.1,1278.8 L297.2,1277.3 L297.3,1274.6 L297.5,1271.8 L297.5,1271.8 L297.6,1269.0 L297.8,1266.2 L297.8,1264.9 L297.9,1263.5 L298.1,1260.7 L298.2,1258.0 L298.2,1257.9 L298.4,1255.1 L298.5,1252.3 L298.6,1251.0 L298.7,1249.6 L298.8,1246.8 L299.0,1244.1 L299.0,1244.0 L299.1,1241.2 L299.3,1238.5 L299.4,1237.2 L299.4,1235.7 L299.6,1232.9 L299.8,1230.2 L299.8,1230.1 L299.9,1227.4 L300.1,1224.6 L300.2,1223.3 L300.2,1221.8 L300.4,1219.0 L300.6,1216.4 L300.6,1216.3 L300.7,1213.5 L300.9,1210.7 L301.0,1209.4 L301.1,1207.9 L301.2,1205.1 L301.4,1202.5 L301.4,1202.4 L301.6,1199.6 L301.8,1196.8 L301.8,1195.6 L301.9,1194.0 L302.1,1191.3 L302.3,1188.6 L302.3,1188.5 L302.5,1185.7 L302.7,1182.9 L302.7,1181.7 L302.8,1180.2 L303.0,1177.4 L303.2,1174.7 L303.2,1174.6 L303.4,1171.8 L303.6,1169.1 L303.6,1167.8 L303.8,1166.3 L303.9,1163.5 L304.1,1160.9 L304.1,1160.7 L304.3,1158.0 L304.5,1155.2 L304.6,1154.0 L304.7,1152.4 L304.9,1149.6 L305.1,1147.0 L305.1,1146.9 L305.3,1144.1 L305.5,1141.3 L305.6,1140.1 L305.7,1138.5 L305.9,1135.8 L306.1,1133.2 L306.1,1133.0 L306.3,1130.2 L306.5,1127.4 L306.6,1126.2 L306.7,1124.7 L306.9,1121.9 L307.1,1119.3 L307.1,1119.1 L307.3,1116.3 L307.5,1113.6 L307.6,1112.4 L307.8,1110.8 L308.0,1108.0 L308.2,1105.4 L308.2,1105.2 L308.4,1102.5 L308.6,1099.7 L308.7,1098.5 L308.8,1096.9 L309.1,1094.1 L309.3,1091.6 L309.3,1091.4 L309.5,1088.6 L309.7,1085.8 L309.8,1084.7 L310.0,1083.1 L310.2,1080.3 L310.4,1077.7 L310.4,1077.5 L310.6,1074.7 L310.9,1072.0 L311.0,1070.8 L311.1,1069.2 L311.3,1066.4 L311.6,1063.9 L311.6,1063.6 L311.8,1060.9 L312.0,1058.1 L312.1,1057.0 L312.3,1055.3 L312.5,1052.6 L312.8,1050.0 L312.8,1049.8 L313.0,1047.0 L313.3,1044.3 L313.4,1043.1 L313.5,1041.5 L313.8,1038.7 L314.0,1036.2 L314.0,1035.9 L314.3,1033.2 L314.5,1030.4 L314.6,1029.3 L314.8,1027.6 L315.0,1024.9 L315.3,1022.4 L315.3,1022.1 L315.5,1019.3 L315.8,1016.6 L315.9,1015.4 L316.1,1013.8 L316.3,1011.0 L316.6,1008.5 L316.6,1008.2 L316.9,1005.5 L317.1,1002.7 L317.2,1001.6 L317.4,999.9 L317.7,997.2 L317.9,994.7 L317.9,994.4 L318.2,991.6 L318.5,988.9 L318.6,987.8 L318.8,986.1 L319.0,983.3 L319.3,980.9 L319.3,980.6 L319.6,977.8 L319.9,975.0 L320.0,974.0 L320.2,972.3 L320.5,969.5 L320.7,967.1 L320.8,966.7 L321.0,964.0 L321.3,961.2 L321.4,960.1 L321.6,958.4 L321.9,955.7 L322.2,953.2 L322.2,952.9 L322.5,950.2 L322.8,947.4 L322.9,946.3 L323.1,944.6 L323.4,941.9 L323.7,939.4 L323.7,939.1 L324.0,936.3 L324.3,933.6 L324.5,932.5 L324.6,930.8 L325.0,928.0 L325.2,925.6 L325.3,925.3 L325.6,922.5 L325.9,919.8 L326.0,918.7 L326.2,917.0 L326.5,914.2 L326.8,911.8 L326.9,911.5 L327.2,908.7 L327.5,906.0 L327.6,904.9 L327.8,903.2 L328.2,900.4 L328.4,898.0 L328.5,897.7 L328.8,894.9 L329.2,892.2 L329.3,891.2 L329.5,889.4 L329.8,886.6 L330.1,884.3 L330.2,883.9 L330.5,881.1 L330.8,878.4 L331.0,877.4 L331.2,875.6 L331.5,872.9 L331.8,870.5 L331.9,870.1 L332.2,867.3 L332.6,864.6 L332.7,863.6 L332.9,861.8 L333.3,859.1 L333.6,856.7 L333.6,856.3 L334.0,853.6 L334.4,850.8 L334.5,849.8 L334.7,848.1 L335.1,845.3 L335.4,843.0 L335.4,842.5 L335.8,839.8 L336.2,837.0 L336.3,836.1 L336.5,834.3 L336.9,831.5 L337.2,829.2 L337.3,828.8 L337.7,826.0 L338.0,823.3 L338.2,822.3 L338.4,820.5 L338.8,817.8 L339.1,815.5 L339.2,815.0 L339.6,812.3 L340.0,809.5 L340.1,808.6 L340.4,806.8 L340.7,804.0 L341.1,801.7 L341.1,801.3 L341.5,798.5 L341.9,795.8 L342.1,794.9 L342.3,793.0 L342.7,790.3 L343.1,788.0 L343.1,787.5 L343.5,784.8 L344.0,782.0 L344.1,781.1 L344.4,779.3 L344.8,776.6 L345.1,774.3 L345.2,773.8 L345.6,771.1 L346.0,768.3 L346.2,767.4 L346.5,765.6 L346.9,762.8 L347.3,760.6 L347.3,760.1 L347.8,757.3 L348.2,754.6 L348.4,753.7 L348.7,751.9 L349.1,749.1 L349.5,746.9 L349.6,746.4 L350.0,743.6 L350.5,740.9 L350.6,740.0 L351.0,738.2 L351.4,735.4 L351.8,733.2 L351.9,732.7 L352.4,730.0 L352.9,727.2 L353.0,726.4 L353.3,724.5 L353.8,721.7 L354.2,719.5 L354.3,719.0 L354.8,716.3 L355.3,713.5 L355.5,712.7 L355.8,710.8 L356.4,708.1 L356.8,705.9 L356.9,705.3 L357.4,702.6 L357.9,699.9 L358.1,699.0 L358.5,697.2 L359.0,694.4 L359.5,692.2 L359.6,691.7 L360.1,689.0 L360.7,686.2 L360.8,685.4 L361.2,683.5 L361.8,680.8 L362.3,678.6 L362.4,678.1 L363.0,675.3 L363.6,672.6 L363.7,671.8 L364.1,669.9 L364.8,667.2 L365.2,665.0 L365.4,664.4 L366.0,661.7 L366.6,659.0 L366.8,658.2 L367.2,656.3 L367.8,653.6 L368.4,651.4 L368.5,650.8 L369.1,648.1 L369.8,645.4 L370.0,644.6 L370.4,642.7 L371.1,640.0 L371.7,637.8 L371.8,637.3 L372.5,634.6 L373.2,631.8 L373.4,631.1 L373.9,629.1 L374.6,626.4 L375.2,624.3 L375.3,623.7 L376.1,621.1 L376.8,618.4 L377.1,617.6 L377.6,615.7 L378.4,613.0 L379.0,610.9 L379.2,610.3 L380.0,607.7 L380.8,605.0 L381.0,604.2 L381.6,602.3 L382.5,599.7 L383.2,597.6 L383.4,597.0 L384.3,594.4 L385.2,591.7 L385.4,591.0 L386.1,589.1 L387.0,586.5 L387.7,584.5 L388.0,583.9 L388.9,581.3 L389.9,578.7 L390.2,578.0 L390.9,576.1 L391.9,573.5 L392.7,571.5 L393.0,570.9 L394.1,568.4 L395.2,565.8 L395.4,565.2 L396.3,563.3 L397.4,560.7 L398.3,558.8 L398.5,558.2 L399.7,555.7 L400.9,553.2 L401.2,552.6 L402.1,550.7 L403.4,548.2 L404.3,546.4 L404.6,545.8 L405.9,543.3 L407.2,540.9 L407.6,540.3 L408.6,538.5 L409.9,536.1 L411.0,534.3 L411.3,533.7 L412.7,531.3 L414.1,528.9 L414.5,528.3 L415.6,526.6 L417.1,524.3 L418.2,522.5 L422.0,516.8 L426.0,511.2 L430.2,505.7 L434.5,500.3 L439.0,495.1 L443.6,490.0 L448.3,485.0 L453.2,480.1 L458.2,475.4 L463.4,470.8 L468.7,466.4 L474.1,462.1 L479.6,457.9 L485.2,453.9 L491.0,450.1 L496.8,446.4 L502.8,442.9 L508.8,439.4 L515.0,436.2 L521.2,433.1 L527.5,430.1 L533.8,427.2 L540.2,424.5 L546.7,421.9 L553.2,419.4 L559.8,417.0 L566.4,414.8 L573.0,412.6 L579.7,410.5 L586.5,408.5 L593.2,406.6 L600.0,404.8 L606.8,403.0 L613.5,401.3 L620.4,399.7 L627.2,398.1 L634.0,396.6 L640.8,395.1 L647.6,393.7 L654.5,392.3 L661.3,391.0 L668.2,389.7 L675.0,388.5 L681.9,387.3 L688.7,386.1 L695.6,385.0 L702.4,383.9 L709.3,382.9 L716.2,381.9 L723.1,381.0 L729.9,380.0 L736.8,379.1 L743.7,378.3 L750.6,377.5 L757.5,376.7 L764.4,375.9 L771.3,375.2 L778.2,374.5 L785.1,373.8 L792.0,373.1 L798.9,372.5 L805.8,371.9 L812.7,371.3 L819.6,370.7 L826.5,370.1 L833.4,369.6 L840.3,369.1 L847.3,368.5 L854.2,368.0 L861.1,367.6 L868.0,367.1 L874.9,366.6 L881.9,366.2 L888.8,365.7 L895.7,365.3 L902.6,364.8 L909.6,364.4 L916.5,364.0 L923.4,363.5 L930.3,363.1 L937.3,362.7 L944.2,362.3 L951.1,361.8 L958.1,361.4 L965.0,361.0 L971.9,360.6 L978.8,360.2 L985.8,359.8 L992.7,359.4 L999.6,359.0 L1006.6,358.7 L1013.5,358.3 L1020.4,357.9 L1027.4,357.5 L1034.3,357.1 L1041.2,356.8 L1048.2,356.4 L1055.1,356.1 L1062.0,355.7 L1069.0,355.3 L1075.9,355.0 L1082.8,354.6 L1089.8,354.3 L1096.7,354.0 L1103.6,353.6 L1110.6,353.3 L1117.5,353.0 L1124.4,352.6 L1131.4,352.3 L1138.3,352.0 L1145.2,351.7 L1152.2,351.3 L1159.1,351.0 L1166.0,350.7 L1173.0,350.4 L1179.9,350.1 L1186.9,349.8 L1193.8,349.5 L1200.7,349.2 L1207.7,348.9 L1214.6,348.6 L1221.6,348.4 L1228.5,348.1 L1235.4,347.8 L1242.4,347.5 L1249.3,347.2 L1256.3,347.0 L1263.2,346.7 L1270.1,346.4 L1277.1,346.2 L1284.0,345.9 L1291.0,345.7 L1297.9,345.4 L1304.8,345.1 L1311.8,344.9 L1318.7,344.7 L1325.7,344.4 L1332.6,344.2 L1339.6,343.9 L1346.5,343.7 L1353.4,343.5 L1360.4,343.2 L1367.3,343.0 L1374.3,342.8 L1381.2,342.5 L1388.2,342.3 L1395.1,342.1 L1402.0,341.9 L1409.0,341.7 L1415.9,341.5 L1422.9,341.3 L1429.8,341.0 L1436.8,340.8 L1443.7,340.6 L1450.7,340.4 L1457.6,340.2 L1464.6,340.0 L1471.5,339.8 L1478.4,339.7 L1485.4,339.5 L1492.3,339.3 L1499.3,339.1 L1506.2,338.9 L1513.2,338.7 L1520.1,338.6 L1527.1,338.4 L1534.0,338.2 L1541.0,338.0 L1547.9,337.9 L1554.9,337.7 L1561.8,337.5 L1568.8,337.4 L1575.7,337.2 L1582.6,337.0 L1589.6,336.9 L1596.5,336.7 L1603.5,336.6 L1610.4,336.4 L1617.4,336.2 L1624.3,336.1 L1631.3,335.9 L1638.2,335.8 L1645.2,335.7 L1652.1,335.5 L1659.1,335.4 L1666.0,335.2 L1673.0,335.1 L1679.9,334.9 L1686.9,334.8 L1693.8,334.7 L1700.8,334.5 L1707.7,334.4 L1714.7,334.3 L1721.6,334.2 L1728.6,334.0 L1735.5,333.9 L1742.5,333.8 L1749.4,333.7 L1756.4,333.5 L1763.3,333.4 L1770.2,333.3 L1777.2,333.2 L1784.1,333.1 L1791.1,332.9 L1798.0,332.8 L1805.0,332.7 L1811.9,332.6 L1818.9,332.5 L1825.8,332.4 L1832.8,332.3 L1839.7,332.2 L1846.7,332.1 L1853.6,332.0 L1860.6,331.9 L1867.5,331.8 L1874.5,331.7 L1881.4,331.6 L1888.4,331.5 L1895.3,331.4 L1902.3,331.3 L1909.2,331.2 L1916.2,331.1 L1923.1,331.0 L1930.1,330.9 L1937.0,330.8 L1944.0,330.7 L1950.9,330.6 L1957.8,330.5 L1964.8,330.4 L1971.7,330.3 L1978.7,330.2 L1985.6,330.1 L1992.6,330.1 L1999.5,330.0 L2006.5,329.9 L2013.4,329.8 L2020.4,329.7 L2027.3,329.6 L2034.3,329.5 L2041.2,329.5 L2048.2,329.4 L2055.1,329.3 L2062.0,329.2 L2069.0,329.1 L2075.9,329.1 L2082.9,329.0 L2089.8,328.9 L2096.8,328.8 L2103.7,328.7 L2110.7,328.7 L2117.6,328.6 L2124.5,328.5 L2131.5,328.4 L2138.4,328.3 L2145.4,328.3 L2152.3,328.2 L2159.3,328.1 L2166.2,328.0 L2173.2,328.0 L2180.1,327.9 L2187.0,327.8 L2194.0,327.7 L2200.9,327.6 L2207.9,327.6 L2214.8,327.5 L2221.8,327.4 L2228.7,327.3 L2235.6,327.3 L2242.6,327.2 L2249.5,327.1 L2256.5,327.0 L2263.4,327.0 L2270.3,326.9 L2277.3,326.8 L2284.2,326.7 L2291.2,326.6 L2298.1,326.6 L2305.0,326.5 L2312.0,326.4" stroke="#FF00FF" />
<path d="M294.0,1329.3 L294.0,1326.5 L294.1,1323.8 L294.1,1322.4 L294.1,1321.1 L294.2,1318.3 L294.2,1315.6 L294.2,1315.6 L294.3,1312.9 L294.4,1310.1 L294.4,1308.8 L294.4,1307.4 L294.5,1304.7 L294.5,1302.0 L294.5,1301.9 L294.6,1299.2 L294.7,1296.5 L294.7,1295.1 L294.7,1293.7 L294.8,1291.0 L294.9,1288.3 L294.9,1288.3 L294.9,1285.6 L295.0,1282.8 L295.0,1281.5 L295.1,1280.1 L295.2,1277.4 L295.2,1274.7 L295.2,1274.6 L295.3,1271.9 L295.4,1269.2 L295.4,1267.8 L295.5,1266.4 L295.5,1263.7 L295.6,1261.0 L295.6,1261.0 L295.7,1258.2 L295.8,1255.5 L295.8,1254.2 L295.9,1252.8 L295.9,1250.0 L296.0,1247.4 L296.0,1247.3 L296.1,1244.5 L296.2,1241.8 L296.2,1240.5 L296.3,1239.1 L296.4,1236.3 L296.5,1233.7 L296.5,1233.6 L296.6,1230.9 L296.7,1228.1 L296.7,1226.9 L296.8,1225.4 L296.9,1222.7 L297.0,1220.0 L297.0,1219.9 L297.1,1217.2 L297.2,1214.5 L297.2,1213.2 L297.3,1211.7 L297.4,1209.0 L297.5,1206.4 L297.5,1206.3 L297.6,1203.5 L297.7,1200.8 L297.7,1199.5 L297.8,1198.1 L297.9,1195.3 L298.0,1192.7 L298.0,1192.6 L298.1,1189.9 L298.2,1187.1 L298.3,1185.9 L298.4,1184.4 L298.5,1181.6 L298.6,1179.0 L298.6,1178.9 L298.7,1176.2 L298.8,1173.4 L298.9,1172.2 L299.0,1170.7 L299.1,1168.0 L299.2,1165.4 L299.2,1165.2 L299.3,1162.5 L299.5,1159.8 L299.5,1158.5 L299.6,1157.0 L299.7,1154.3 L299.9,1151.7 L299.9,1151.6 L300.0,1148.8 L300.1,1146.1 L300.2,1144.9 L300.3,1143.3 L300.4,1140.6 L300.6,1138.0 L300.6,1137.9 L300.7,1135.1 L300.9,1132.4 L300.9,1131.2 L301.0,1129.7 L301.1,1126.9 L301.3,1124.4 L301.3,1124.2 L301.4,1121.5 L301.6,1118.7 L301.7,1117.5 L301.8,1116.0 L301.9,1113.3 L302.1,1110.7 L302.1,1110.5 L302.2,1107.8 L302.4,1105.1 L302.5,1103.9 L302.6,1102.3 L302.7,1099.6 L302.9,1097.1 L302.9,1096.9 L303.0,1094.1 L303.2,1091.4 L303.3,1090.2 L303.4,1088.7 L303.6,1085.9 L303.7,1083.4 L303.7,1083.2 L303.9,1080.5 L304.1,1077.7 L304.2,1076.6 L304.3,1075.0 L304.4,1072.3 L304.6,1069.7 L304.6,1069.5 L304.8,1066.8 L305.0,1064.1 L305.1,1062.9 L305.2,1061.3 L305.4,1058.6 L305.5,1056.1 L305.6,1055.9 L305.8,1053.1 L306.0,1050.4 L306.0,1049.3 L306.1,1047.7 L306.3,1044.9 L306.5,1042.4 L306.5,1042.2 L306.7,1039.5 L306.9,1036.7 L307.0,1035.6 L307.2,1034.0 L307.4,1031.3 L307.6,1028.8 L307.6,1028.6 L307.8,1025.8 L308.0,1023.1 L308.1,1022.0 L308.2,1020.4 L308.4,1017.6 L308.6,1015.2 L308.6,1014.9 L308.9,1012.2 L309.1,1009.4 L309.2,1008.4 L309.3,1006.7 L309.5,1004.0 L309.7,1001.5 L309.8,1001.3 L310.0,998.5 L310.2,995.8 L310.3,994.7 L310.5,993.1 L310.7,990.4 L310.9,987.9 L310.9,987.6 L311.2,984.9 L311.4,982.2 L311.5,981.1 L311.6,979.4 L311.9,976.7 L312.1,974.3 L312.1,974.0 L312.4,971.3 L312.6,968.5 L312.7,967.5 L312.9,965.8 L313.1,963.1 L313.4,960.7 L313.4,960.4 L313.7,957.7 L313.9,954.9 L314.0,953.9 L314.2,952.2 L314.4,949.5 L314.7,947.1 L314.7,946.8 L315.0,944.0 L315.2,941.3 L315.4,940.3 L315.5,938.6 L315.8,935.9 L316.0,933.5 L316.1,933.2 L316.4,930.4 L316.6,927.7 L316.7,926.7 L316.9,925.0 L317.2,922.3 L317.4,919.9 L317.5,919.6 L317.8,916.8 L318.1,914.1 L318.2,913.1 L318.4,911.4 L318.7,908.7 L318.9,906.3 L319.0,906.0 L319.3,903.2 L319.6,900.5 L319.7,899.5 L319.9,897.8 L320.2,895.1 L320.4,892.7 L320.5,892.4 L320.8,889.7 L321.1,887.0 L321.2,886.0 L321.4,884.2 L321.7,881.5 L322.0,879.2 L322.0,878.8 L322.4,876.1 L322.7,873.4 L322.8,872.4 L323.0,870.7 L323.3,868.0 L323.6,865.6 L323.7,865.2 L324.0,862.5 L324.3,859.8 L324.5,858.9 L324.7,857.1 L325.0,854.4 L325.3,852.1 L325.4,851.7 L325.7,849.0 L326.0,846.3 L326.2,845.3 L326.4,843.6 L326.7,840.9 L327.0,838.6 L327.1,838.2 L327.5,835.4 L327.8,832.7 L327.9,831.8 L328.2,830.0 L328.5,827.3 L328.8,825.0 L328.9,824.6 L329.3,821.9 L329.6,819.2 L329.8,818.3 L330.0,816.5 L330.4,813.8 L330.7,811.5 L330.8,811.1 L331.1,808.4 L331.5,805.7 L331.6,804.8 L331.9,803.0 L332.3,800.3 L332.6,798.0 L332.7,797.6 L333.1,794.9 L333.5,792.2 L333.6,791.3 L333.9,789.5 L334.3,786.8 L334.6,784.6 L334.7,784.1 L335.1,781.4 L335.5,778.7 L335.6,777.8 L335.9,776.0 L336.3,773.3 L336.7,771.1 L336.8,770.6 L337.2,767.9 L337.6,765.2 L337.8,764.4 L338.1,762.6 L338.5,759.9 L338.9,757.6 L339.0,757.2 L339.4,754.5 L339.9,751.8 L340.0,750.9 L340.4,749.1 L340.8,746.4 L341.2,744.2 L341.3,743.7 L341.8,741.0 L342.3,738.3 L342.4,737.5 L342.8,735.6 L343.3,733.0 L343.7,730.8 L343.8,730.3 L344.3,727.6 L344.8,724.9 L345.0,724.0 L345.3,722.2 L345.9,719.5 L346.3,717.3 L346.4,716.8 L346.9,714.1 L347.5,711.5 L347.7,710.6 L348.0,708.8 L348.6,706.1 L349.1,703.9 L349.2,703.4 L349.8,700.7 L350.4,698.0 L350.5,697.2 L351.0,695.4 L351.6,692.7 L352.0,690.5 L352.2,690.0 L352.8,687.3 L353.4,684.6 L353.6,683.8 L354.1,682.0 L354.7,679.3 L355.2,677.1 L355.4,676.6 L356.0,673.9 L356.7,671.2 L356.9,670.4 L357.4,668.6 L358.1,665.9 L358.6,663.8 L358.8,663.2 L359.5,660.6 L360.2,657.9 L360.5,657.1 L361.0,655.2 L361.7,652.6 L362.4,650.5 L362.5,649.9 L363.3,647.3 L364.1,644.7 L364.3,643.9 L364.9,642.0 L365.7,639.4 L366.4,637.3 L366.6,636.8 L367.4,634.2 L368.3,631.6 L368.6,630.8 L369.2,629.0 L370.1,626.4 L370.9,624.3 L371.1,623.8 L372.0,621.2 L373.0,618.6 L373.2,617.9 L374.0,616.1 L375.0,613.5 L375.7,611.5 L376.0,611.0 L377.0,608.4 L378.1,605.9 L378.4,605.2 L379.2,603.4 L380.3,600.9 L381.1,599.0 L381.4,598.4 L382.5,595.9 L383.7,593.5 L384.0,592.8 L384.9,591.0 L386.1,588.6 L387.1,586.7 L387.4,586.2 L388.6,583.7 L389.9,581.3 L390.3,580.7 L391.2,579.0 L392.6,576.6 L393.6,574.8 L394.0,574.2 L395.3,571.9 L396.8,569.6 L397.1,568.9 L398.2,567.2 L399.7,565.0 L400.8,563.2 L401.2,562.7 L402.7,560.4 L404.3,558.2 L404.7,557.6 L405.8,555.9 L407.4,553.7 L408.7,552.1 L409.1,551.5 L410.7,549.4 L412.4,547.2 L412.8,546.7 L414.1,545.1 L415.8,543.0 L417.1,541.4 L417.6,540.9 L419.3,538.9 L421.1,536.8 L421.6,536.3 L423.0,534.8 L424.8,532.8 L426.2,531.3 L431.0,526.5 L435.9,521.9 L440.9,517.4 L446.1,513.1 L451.5,509.0 L457.0,505.0 L462.6,501.3 L468.3,497.8 L474.2,494.4 L480.2,491.2 L486.2,488.2 L492.4,485.3 L498.7,482.6 L505.0,480.1 L511.5,477.7 L518.0,475.4 L524.5,473.3 L531.1,471.3 L537.7,469.4 L544.4,467.6 L551.1,465.9 L557.8,464.3 L564.5,462.8 L571.3,461.4 L578.0,460.1 L584.8,458.8 L591.6,457.6 L598.3,456.5 L605.1,455.4 L611.9,454.4 L618.7,453.3 L625.4,452.4 L632.2,451.4 L639.0,450.5 L645.8,449.5 L652.6,448.6 L659.4,447.8 L666.2,446.9 L672.9,446.1 L679.7,445.3 L686.5,444.5 L693.3,443.8 L700.1,443.0 L706.9,442.3 L713.7,441.6 L720.5,441.0 L727.3,440.3 L734.1,439.7 L740.9,439.0 L747.7,438.4 L754.5,437.8 L761.3,437.2 L768.1,436.7 L774.9,436.1 L781.7,435.6 L788.6,435.1 L795.4,434.6 L802.2,434.1 L809.0,433.6 L815.8,433.1 L822.6,432.6 L829.4,432.2 L836.2,431.7 L843.0,431.3 L849.9,430.9 L856.7,430.5 L863.5,430.1 L870.3,429.6 L877.1,429.3 L883.9,428.9 L890.7,428.5 L897.6,428.1 L904.4,427.7 L911.2,427.3 L918.0,427.0 L924.8,426.6 L931.7,426.2 L938.5,425.9 L945.3,425.5 L952.1,425.2 L958.9,424.8 L965.8,424.5 L972.6,424.2 L979.4,423.8 L986.2,423.5 L993.0,423.2 L999.9,422.9 L1006.7,422.5 L1013.5,422.2 L1020.3,421.9 L1027.2,421.6 L1034.0,421.3 L1040.8,421.0 L1047.6,420.7 L1054.5,420.4 L1061.3,420.1 L1068.1,419.8 L1074.9,419.6 L1081.8,419.3 L1088.6,419.0 L1095.4,418.7 L1102.2,418.5 L1109.1,418.2 L1115.9,417.9 L1122.7,417.7 L1129.5,417.4 L1136.4,417.2 L1143.2,416.9 L1150.0,416.7 L1156.9,416.4 L1163.7,416.2 L1170.5,416.0 L1177.3,415.7 L1184.2,415.5 L1191.0,415.3 L1197.8,415.0 L1204.7,414.8 L1211.5,414.6 L1218.3,414.4 L1225.2,414.2 L1232.0,414.0 L1238.8,413.8 L1245.6,413.6 L1252.5,413.4 L1259.3,413.2 L1266.1,413.0 L1273.0,412.8 L1279.8,412.6 L1286.6,412.4 L1293.5,412.2 L1300.3,412.0 L1307.1,411.9 L1314.0,411.7 L1320.8,411.5 L1327.6,411.3 L1334.5,411.2 L1341.3,411.0 L1348.1,410.8 L1355.0,410.7 L1361.8,410.5 L1368.6,410.4 L1375.5,410.2 L1382.3,410.1 L1389.2,409.9 L1396.0,409.8 L1402.8,409.6 L1409.7,409.5 L1416.5,409.3 L1423.3,409.2 L1430.2,409.1 L1437.0,408.9 L1443.8,408.8 L1450.7,408.7 L1457.5,408.6 L1464.3,408.4 L1471.2,408.3 L1478.0,408.2 L1484.9,408.1 L1491.7,407.9 L1498.5,407.8 L1505.4,407.7 L1512.2,407.6 L1519.0,407.5 L1525.9,407.4 L1532.7,407.3 L1539.6,407.2 L1546.4,407.1 L1553.2,407.0 L1560.1,406.9 L1566.9,406.8 L1573.7,406.7 L1580.6,406.6 L1587.4,406.5 L1594.3,406.4 L1601.1,406.3 L1607.9,406.2 L1614.8,406.2 L1621.6,406.1 L1628.5,406.0 L1635.3,405.9 L1642.1,405.8 L1649.0,405.7 L1655.8,405.7 L1662.6,405.6 L1669.5,405.5 L1676.3,405.4 L1683.2,405.4 L1690.0,405.3 L1696.8,405.2 L1703.7,405.2 L1710.5,405.1 L1717.4,405.0 L1724.2,405.0 L1731.0,404.9 L1737.9,404.8 L1744.7,404.8 L1751.6,404.7 L1758.4,404.7 L1765.2,404.6 L1772.1,404.5 L1778.9,404.5 L1785.7,404.4 L1792.6,404.4 L1799.4,404.3 L1806.3,404.3 L1813.1,404.2 L1819.9,404.2 L1826.8,404.1 L1833.6,404.0 L1840.5,404.0 L1847.3,403.9 L1854.1,403.9 L1861.0,403.9 L1867.8,403.8 L1874.6,403.8 L1881.5,403.7 L1888.3,403.7 L1895.2,403.6 L1902.0,403.6 L1908.8,403.5 L1915.7,403.5 L1922.5,403.4 L1929.3,403.4 L1936.2,403.4 L1943.0,403.3 L1949.9,403.3 L1956.7,403.2 L1963.5,403.2 L1970.4,403.1 L1977.2,403.1 L1984.0,403.1 L1990.9,403.0 L1997.7,403.0 L2004.5,402.9 L2011.4,402.9 L2018.2,402.8 L2025.0,402.8 L2031.9,402.8 L2038.7,402.7 L2045.6,402.7 L2052.4,402.6 L2059.2,402.6 L2066.1,402.6 L2072.9,402.5 L2079.7,402.5 L2086.6,402.4 L2093.4,402.4 L2100.2,402.3 L2107.1,402.3 L2113.9,402.3 L2120.7,402.2 L2127.6,402.2 L2134.4,402.1 L2141.2,402.1 L2148.1,402.0 L2154.9,402.0 L2161.7,401.9 L2168.6,401.9 L2175.4,401.8 L2182.2,401.8 L2189.0,401.7 L2195.9,401.7 L2202.7,401.6 L2209.5,401.6 L2216.4,401.5 L2223.2,401.5 L2230.0,401.4 L2236.9,401.4 L2243.7,401.3 L2250.5,401.3 L2257.3,401.2 L2264.2,401.2 L2271.0,401.1 L2277.8,401.0 L2284.7,401.0 L2291.5,400.9 L2298.3,400.9 L2305.1,400.8 L2312.0,400.8" stroke="#008000" />
<path d="M297.0,1181.5 L297.2,1180.7 L297.2,1180.0 L297.2,1179.6 L297.2,1179.2 L297.2,1178.4 L297.3,1177.6 L297.3,1177.6 L297.3,1176.8 L297.3,1176.1 L297.3,1175.7 L297.3,1175.3 L297.4,1174.5 L297.4,1173.7 L297.4,1173.7 L297.4,1173.0 L297.4,1172.2 L297.4,1171.8 L297.5,1171.4 L297.5,1170.6 L297.5,1169.9 L297.5,1169.8 L297.5,1169.1 L297.6,1168.3 L297.6,1167.9 L297.6,1167.5 L297.6,1166.7 L297.6,1166.0 L297.6,1166.0 L297.6,1165.2 L297.7,1164.4 L297.7,1164.0 L297.7,1163.6 L297.7,1162.8 L297.7,1162.1 L297.7,1162.1 L297.8,1161.3 L297.8,1160.5 L297.8,1160.1 L297.8,1159.7 L297.8,1159.0 L297.9,1158.2 L297.9,1158.2 L297.9,1157.4 L297.9,1156.6 L297.9,1156.3 L297.9,1155.8 L298.0,1155.1 L298.0,1154.3 L298.0,1154.3 L298.0,1153.5 L298.0,1152.7 L298.0,1152.4 L298.1,1152.0 L298.1,1151.2 L298.1,1150.4 L298.1,1150.4 L298.1,1149.6 L298.2,1148.9 L298.2,1148.5 L298.2,1148.1 L298.2,1147.3 L298.2,1146.5 L298.2,1146.5 L298.3,1145.7 L298.3,1145.0 L298.3,1144.6 L298.3,1144.2 L298.3,1143.4 L298.4,1142.7 L298.4,1142.6 L298.4,1141.9 L298.4,1141.1 L298.4,1140.7 L298.4,1140.3 L298.5,1139.5 L298.5,1138.8 L298.5,1138.7 L298.5,1138.0 L298.5,1137.2 L298.5,1136.8 L298.6,1136.4 L298.6,1135.6 L298.6,1134.9 L298.6,1134.9 L298.6,1134.1 L298.7,1133.3 L298.7,1133.0 L298.7,1132.5 L298.7,1131.7 L298.7,1131.0 L298.7,1131.0 L298.8,1130.2 L298.8,1129.4 L298.8,1129.1 L298.8,1128.6 L298.8,1127.9 L298.9,1127.1 L298.9,1127.1 L298.9,1126.3 L298.9,1125.5 L298.9,1125.2 L298.9,1124.8 L299.0,1124.0 L299.0,1123.2 L299.0,1123.2 L299.0,1122.4 L299.0,1121.6 L299.1,1121.3 L299.1,1120.9 L299.1,1120.1 L299.1,1119.4 L299.1,1119.3 L299.2,1118.5 L299.2,1117.8 L299.2,1117.4 L299.2,1117.0 L299.2,1116.2 L299.3,1115.5 L299.3,1115.4 L299.3,1114.6 L299.3,1113.9 L299.3,1113.5 L299.3,1113.1 L299.4,1112.3 L299.4,1111.6 L299.4,1111.5 L299.4,1110.8 L299.4,1110.0 L299.5,1109.7 L299.5,1109.2 L299.5,1108.4 L299.5,1107.7 L299.5,1107.7 L299.6,1106.9 L299.6,1106.1 L299.6,1105.8 L299.6,1105.3 L299.6,1104.5 L299.7,1103.8 L299.7,1103.8 L299.7,1103.0 L299.7,1102.2 L299.7,1101.9 L299.8,1101.4 L299.8,1100.7 L299.8,1100.0 L299.8,1099.9 L299.8,1099.1 L299.9,1098.3 L299.9,1098.0 L299.9,1097.6 L299.9,1096.8 L299.9,1096.1 L300.0,1096.0 L300.0,1095.2 L300.0,1094.4 L300.0,1094.1 L300.0,1093.7 L300.1,1092.9 L300.1,1092.2 L300.1,1092.1 L300.1,1091.3 L300.2,1090.6 L300.2,1090.2 L300.2,1089.8 L300.2,1089.0 L300.2,1088.3 L300.2,1088.2 L300.3,1087.5 L300.3,1086.7 L300.3,1086.4 L300.3,1085.9 L300.4,1085.1 L300.4,1084.4 L300.4,1084.3 L300.4,1083.6 L300.4,1082.8 L300.5,1082.5 L300.5,1082.0 L300.5,1081.2 L300.5,1080.5 L300.5,1080.5 L300.6,1079.7 L300.6,1078.9 L300.6,1078.6 L300.6,1078.1 L300.7,1077.4 L300.7,1076.7 L300.7,1076.6 L300.7,1075.8 L300.7,1075.0 L300.8,1074.7 L300.8,1074.2 L300.8,1073.5 L300.8,1072.8 L300.8,1072.7 L300.9,1071.9 L300.9,1071.1 L300.9,1070.8 L300.9,1070.4 L301.0,1069.6 L301.0,1068.9 L301.0,1068.8 L301.0,1068.0 L301.1,1067.3 L301.1,1067.0 L301.1,1066.5 L301.1,1065.7 L301.1,1065.0 L301.2,1064.9 L301.2,1064.1 L301.2,1063.4 L301.2,1063.1 L301.2,1062.6 L301.3,1061.8 L301.3,1061.1 L301.3,1061.0 L301.3,1060.3 L301.4,1059.5 L301.4,1059.2 L301.4,1058.7 L301.4,1057.9 L301.5,1057.3 L301.5,1057.2 L301.5,1056.4 L301.5,1055.6 L301.5,1055.3 L301.6,1054.8 L301.6,1054.1 L301.6,1053.4 L301.6,1053.3 L301.7,1052.5 L301.7,1051.7 L301.7,1051.4 L301.7,1050.9 L301.8,1050.2 L301.8,1049.5 L301.8,1049.4 L301.8,1048.6 L301.9,1047.8 L301.9,1047.6 L301.9,1047.1 L301.9,1046.3 L302.0,1045.6 L302.0,1045.5 L302.0,1044.7 L302.0,1044.0 L302.0,1043.7 L302.1,1043.2 L302.1,1042.4 L302.1,1041.7 L302.1,1041.6 L302.2,1040.9 L302.2,1040.1 L302.2,1039.8 L302.2,1039.3 L302.3,1038.5 L302.3,1037.9 L302.3,1037.7 L302.3,1037.0 L302.4,1036.2 L302.4,1035.9 L302.4,1035.4 L302.4,1034.6 L302.5,1034.0 L302.5,1033.9 L302.5,1033.1 L302.6,1032.3 L302.6,1032.0 L302.6,1031.5 L302.6,1030.8 L302.7,1030.1 L302.7,1030.0 L302.7,1029.2 L302.7,1028.4 L302.7,1028.2 L302.8,1027.7 L302.8,1026.9 L302.8,1026.2 L302.8,1026.1 L302.9,1025.3 L302.9,1024.5 L302.9,1024.3 L302.9,1023.8 L303.0,1023.0 L303.0,1022.4 L303.0,1022.2 L303.1,1021.4 L303.1,1020.7 L303.1,1020.4 L303.1,1019.9 L303.2,1019.1 L303.2,1018.5 L303.2,1018.3 L303.2,1017.6 L303.3,1016.8 L303.3,1016.5 L303.3,1016.0 L303.4,1015.2 L303.4,1014.6 L303.4,1014.5 L303.4,1013.7 L303.5,1012.9 L303.5,1012.7 L303.5,1012.1 L303.5,1011.4 L303.6,1010.7 L303.6,1010.6 L303.6,1009.8 L303.7,1009.0 L303.7,1008.8 L303.7,1008.3 L303.7,1007.5 L303.8,1006.8 L303.8,1006.7 L303.8,1005.9 L303.9,1005.1 L303.9,1004.9 L303.9,1004.4 L303.9,1003.6 L304.0,1003.0 L304.0,1002.8 L304.0,1002.0 L304.1,1001.3 L304.1,1001.0 L304.1,1000.5 L304.1,999.7 L304.2,999.1 L304.2,998.9 L304.2,998.2 L304.2,997.4 L304.3,997.2 L304.3,996.6 L304.3,995.8 L304.4,995.2 L304.4,995.1 L304.4,994.3 L304.5,993.5 L304.5,993.3 L304.5,992.7 L304.5,992.0 L304.6,991.3 L304.6,991.2 L304.6,990.4 L304.7,989.6 L304.7,989.4 L304.7,988.9 L304.7,988.1 L304.8,987.5 L304.8,987.3 L304.8,986.5 L304.9,985.7 L304.9,985.5 L304.9,985.0 L304.9,984.2 L305.0,983.6 L305.0,983.4 L305.0,982.6 L305.1,981.9 L305.1,981.6 L305.1,981.1 L305.2,980.3 L305.2,979.7 L305.2,979.5 L305.2,978.8 L305.3,978.0 L305.3,977.8 L305.3,977.2 L305.4,976.4 L305.4,975.8 L305.4,975.7 L305.5,974.9 L305.5,974.1 L305.5,973.9 L305.5,973.3 L305.6,972.6 L305.6,972.0 L305.6,971.8 L305.7,971.0 L305.7,970.2 L305.7,970.0 L305.8,969.5 L305.8,968.7 L305.8,968.1 L305.9,967.9 L305.9,967.1 L305.9,966.4 L306.0,966.1 L306.0,965.6 L306.0,964.8 L306.1,964.2 L306.1,964.0 L306.1,963.3 L306.2,962.5 L306.2,962.3 L306.2,961.7 L306.3,960.9 L306.3,960.3 L306.3,960.2 L306.4,959.4 L306.4,958.6 L306.4,958.4 L306.4,957.8 L306.5,957.0 L306.5,956.5 L306.5,956.3 L306.6,955.5 L306.6,954.7 L306.6,954.5 L306.7,953.9 L306.7,953.2 L306.8,952.6 L306.8,952.4 L306.8,951.6 L306.9,950.8 L306.9,950.7 L306.9,950.1 L307.0,949.3 L307.0,948.7 L307.1,946.8 L307.2,944.8 L307.4,942.9 L307.5,941.0 L307.6,939.0 L307.7,937.1 L307.9,935.2 L308.0,933.2 L308.1,931.3 L308.2,929.3 L308.4,927.4 L308.5,925.5 L308.6,923.5 L308.8,921.6 L308.9,919.7 L309.0,917.7 L309.2,915.8 L309.3,913.9 L309.4,911.9 L309.6,910.0 L309.7,908.1 L309.8,906.1 L310.0,904.2 L310.1,902.2 L310.3,900.3 L310.4,898.4 L310.6,896.4 L310.7,894.5 L310.8,892.6 L311.0,890.6 L311.1,888.7 L311.3,886.8 L311.4,884.8 L311.6,882.9 L311.7,881.0 L311.9,879.0 L312.1,877.1 L312.2,875.2 L312.4,873.2 L312.5,871.3 L312.7,869.4 L312.8,867.4 L313.0,865.5 L313.2,863.6 L313.3,861.6 L313.5,859.7 L313.6,857.8 L313.8,855.8 L314.0,853.9 L314.2,851.9 L314.3,850.0 L314.5,848.1 L314.7,846.1 L314.8,844.2 L315.0,842.3 L315.2,840.3 L315.4,838.4 L315.5,836.5 L315.7,834.5 L315.9,832.6 L316.1,830.7 L316.3,828.8 L316.4,826.8 L316.6,824.9 L316.8,823.0 L317.0,821.0 L317.2,819.1 L317.4,817.2 L317.6,815.2 L317.8,813.3 L317.9,811.4 L318.1,809.4 L318.3,807.5 L318.5,805.6 L318.7,803.6 L318.9,801.7 L319.1,799.8 L319.3,797.8 L319.5,795.9 L319.7,794.0 L319.9,792.0 L320.1,790.1 L320.3,788.2 L320.6,786.2 L320.8,784.3 L321.0,782.4 L321.2,780.4 L321.4,778.5 L321.6,776.6 L321.8,774.7 L322.1,772.7 L322.3,770.8 L322.5,768.9 L322.7,766.9 L322.9,765.0 L323.2,763.1 L323.4,761.1 L323.6,759.2 L323.8,757.3 L324.1,755.4 L324.3,753.4 L324.5,751.5 L324.8,749.6 L325.0,747.6 L325.3,745.7 L325.5,743.8 L325.7,741.8 L326.0,739.9 L326.2,738.0 L326.5,736.1 L326.7,734.1 L327.0,732.2 L327.2,730.3 L327.4,728.3 L327.7,726.4 L328.0,724.5 L328.2,722.5 L328.5,720.6 L328.7,718.7 L329.0,716.8 L329.2,714.8 L329.5,712.9 L329.8,711.0 L330.0,709.0 L330.3,707.1 L330.6,705.2 L330.8,703.3 L331.1,701.3 L331.4,699.4 L331.7,697.5 L331.9,695.6 L332.2,693.6 L332.5,691.7 L332.8,689.8 L333.1,687.8 L333.4,685.9 L333.6,684.0 L333.9,682.1 L334.2,680.1 L334.5,678.2 L334.8,676.3 L335.1,674.4 L335.4,672.5 L335.7,670.5 L336.0,668.6 L336.4,666.7 L336.7,664.8 L337.0,662.9 L337.3,660.9 L337.6,659.0 L337.9,657.1 L338.3,655.2 L338.6,653.3 L338.9,651.3 L339.3,649.4 L339.6,647.5 L339.9,645.6 L340.3,643.7 L340.6,641.8 L341.0,639.9 L341.3,637.9 L341.7,636.0 L342.0,634.1 L342.4,632.2 L342.7,630.3 L343.1,628.4 L343.5,626.5 L343.8,624.6 L344.2,622.7 L344.6,620.8 L345.0,618.9 L345.4,617.0 L345.8,615.1 L346.1,613.2 L346.5,611.3 L346.9,609.4 L347.3,607.5 L347.7,605.6 L348.2,603.7 L348.6,601.8 L349.0,599.9 L349.4,598.0 L349.8,596.1 L350.2,594.2 L350.7,592.3 L351.1,590.4 L351.6,588.5 L352.0,586.6 L352.4,584.7 L352.9,582.9 L353.3,581.0 L353.8,579.1 L354.3,577.2 L354.7,575.3 L355.2,573.5 L355.7,571.6 L356.1,569.7 L356.6,567.8 L357.1,566.0 L357.6,564.1 L358.1,562.2 L358.6,560.3 L359.1,558.5 L359.6,556.6 L360.1,554.7 L360.6,552.9 L361.2,551.0 L361.7,549.1 L362.2,547.3 L362.8,545.4 L363.3,543.6 L363.8,541.7 L364.4,539.9 L364.9,538.0 L365.5,536.2 L366.1,534.3 L366.6,532.5 L367.2,530.6 L367.8,528.8 L368.4,526.9 L369.0,525.1 L369.5,523.2 L370.1,521.4 L370.7,519.6 L371.4,517.7 L372.0,515.9 L372.6,514.1 L373.2,512.2 L373.8,510.4 L374.5,508.6 L375.1,506.7 L375.8,504.9 L376.4,503.1 L377.1,501.3 L377.7,499.5 L378.4,497.7 L379.1,495.8 L379.7,494.0 L380.4,492.2 L381.1,490.4 L381.8,488.6 L382.5,486.8 L383.2,485.0 L383.9,483.2 L384.6,481.4 L385.4,479.6 L386.1,477.8 L386.8,476.0 L387.6,474.2 L388.3,472.4 L389.1,470.6 L389.8,468.9 L390.6,467.1 L391.4,465.3 L392.1,463.5 L392.9,461.7 L393.7,460.0 L394.5,458.2 L395.3,456.4 L396.1,454.7 L396.9,452.9 L397.8,451.1 L398.6,449.4 L399.4,447.6 L400.3,445.9 L401.1,444.1 L402.0,442.4 L402.8,440.6 L403.7,438.9 L404.6,437.1 L405.4,435.4 L406.3,433.6 L407.2,431.9 L408.1,430.2 L409.0,428.4 L409.9,426.7 L410.9,425.0 L411.8,423.2 L413.5,422.0 L413.5,422.0 L449.8,375.5 L491.4,340.5 L560.9,303.7 L664.2,273.5 L913.0,240.0 L1301.0,215.2 L1502.0,208.5 L1703.0,203.5 L1900.0,199.4 L2316.0,192.7" stroke="#FF8000" />
</g>
<g font-size="55.5" fill="#000">
<text transform="translate(247,1374.5) scale(1,1.028)" text-anchor="end">0</text>
<text transform="translate(247,1079.2) scale(1,1.028)" text-anchor="end">50</text>
<text transform="translate(247,784.0) scale(1,1.028)" text-anchor="end">100</text>
<text transform="translate(247,488.8) scale(1,1.028)" text-anchor="end">150</text>
<text transform="translate(247,193.5) scale(1,1.028)" text-anchor="end">200</text>
<text transform="translate(292.0,1445.5) scale(1,1.028)" text-anchor="middle">0</text>
<text transform="translate(494.4,1445.5) scale(1,1.028)" text-anchor="middle">100</text>
<text transform="translate(696.8,1445.5) scale(1,1.028)" text-anchor="middle">200</text>
<text transform="translate(899.2,1445.5) scale(1,1.028)" text-anchor="middle">300</text>
<text transform="translate(1101.6,1445.5) scale(1,1.028)" text-anchor="middle">400</text>
<text transform="translate(1304.0,1445.5) scale(1,1.028)" text-anchor="middle">500</text>
<text transform="translate(1506.4,1445.5) scale(1,1.028)" text-anchor="middle">600</text>
<text transform="translate(1708.8,1445.5) scale(1,1.028)" text-anchor="middle">700</text>
<text transform="translate(1911.2,1445.5) scale(1,1.028)" text-anchor="middle">800</text>
<text transform="translate(2113.6,1445.5) scale(1,1.028)" text-anchor="middle">900</text>
<text transform="translate(2316.0,1445.5) scale(1,1.028)" text-anchor="middle">1000</text>
</g>
<text x="1355" y="1552" font-size="69.5" text-anchor="middle">Field (Oe)</text>
<text transform="translate(76,658) rotate(-90)" font-size="69.2" text-anchor="middle">Magnetisation (emu/g)</text>
<g font-size="69.2">
<rect x="724" y="705" width="155" height="8" fill="#000000"/>
<text transform="translate(898,731.8) scale(1,1.025)" fill="#000000">0.5M - 6h, M<tspan font-size="41" dy="24.5">s</tspan><tspan dy="-24.5"> = 146.6 emu/g</tspan></text>
<rect x="724" y="809" width="155" height="8" fill="#FF0000"/>
<text transform="translate(898,836.4) scale(1,1.025)" fill="#FF0000">0.25M - 6h, M<tspan font-size="41" dy="24.5">s</tspan><tspan dy="-24.5"> = 129.9 emu/g</tspan></text>
<rect x="724" y="914" width="155" height="8" fill="#0000FF"/>
<text transform="translate(898,941.0) scale(1,1.025)" fill="#0000FF">0.1M - 6h, M<tspan font-size="41" dy="24.5">s</tspan><tspan dy="-24.5"> = 139.1 emu/g</tspan></text>
<rect x="724" y="1018" width="155" height="8" fill="#FF00FF"/>
<text transform="translate(898,1045.6) scale(1,1.025)" fill="#FF00FF">0.05M-6h, M<tspan font-size="41" dy="24.5">s</tspan><tspan dy="-24.5"> = 174.3 emu/g</tspan></text>
<rect x="724" y="1123" width="155" height="8" fill="#008000"/>
<text transform="translate(898,1150.2) scale(1,1.025)" fill="#008000">0.05M-24h, M<tspan font-size="41" dy="24.5">s</tspan><tspan dy="-24.5"> = 162.2 emu/g</tspan></text>
<rect x="724" y="1228" width="155" height="8" fill="#FF8000"/>
<text transform="translate(898,1254.8) scale(1,1.025)" fill="#FF8000">Amorphous fibre, M<tspan font-size="41" dy="24.5">s</tspan><tspan dy="-24.5"> = 196.4 emu/g</tspan></text>
</g>
</svg>
</body></html>
